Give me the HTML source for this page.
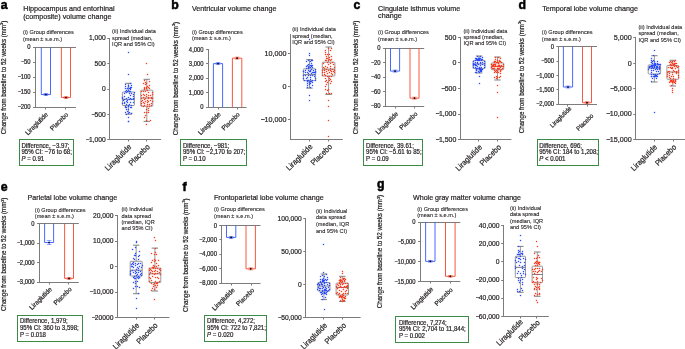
<!DOCTYPE html>
<html><head><meta charset="utf-8"><style>
html,body{margin:0;padding:0;background:#fff;}
body{width:685px;height:349px;overflow:hidden;}
svg{display:block;font-family:"Liberation Sans", sans-serif;will-change:transform;}
text{stroke:#231f20;stroke-width:0.2px;}
</style></head><body>
<svg width="685" height="349" viewBox="0 0 685 349">
<rect width="685" height="349" fill="#fff"/>
<text transform="translate(0.70,8.80) scale(1,1.0)" font-size="12.3" text-anchor="start" font-weight="bold" fill="#000" style="stroke:#000;stroke-width:0.5px">a</text>
<text transform="translate(23.20,10.90) scale(1,1.07)" font-size="7.2" text-anchor="start" font-weight="normal" fill="#231f20" >Hippocampus and entorhinal</text>
<text transform="translate(23.20,18.70) scale(1,1.07)" font-size="7.2" text-anchor="start" font-weight="normal" fill="#231f20" >(composite) volume change</text>
<text transform="translate(5.80,77.50) rotate(-90) scale(1,1.07)" font-size="6.2" text-anchor="middle" fill="#231f20">Change from baseline to 52 weeks (mm<tspan font-size="3.72" dy="-2.2">3</tspan><tspan dy="2.2">)</tspan></text>
<text transform="translate(23.00,34.20) scale(1,1.07)" font-size="5.6" text-anchor="start" font-weight="normal" fill="#231f20" style="stroke-width:0.1px">(i) Group differences</text>
<text transform="translate(23.00,40.80) scale(1,1.07)" font-size="5.6" text-anchor="start" font-weight="normal" fill="#231f20" style="stroke-width:0.1px">(mean ± s.e.m.)</text>
<line x1="35.50" y1="47.00" x2="35.50" y2="108.00" stroke="#7c7c7c" stroke-width="1"/>
<line x1="33.10" y1="47.50" x2="35.50" y2="47.50" stroke="#7c7c7c" stroke-width="1"/>
<text transform="translate(30.60,49.49) scale(1,1.07)" font-size="5.9" text-anchor="end" font-weight="normal" fill="#231f20" >0</text>
<line x1="33.10" y1="62.50" x2="35.50" y2="62.50" stroke="#7c7c7c" stroke-width="1"/>
<text transform="translate(30.60,64.49) scale(1,1.07)" font-size="5.9" text-anchor="end" font-weight="normal" fill="#231f20" >−<tspan dx="-0.12em">50</tspan></text>
<line x1="33.10" y1="77.50" x2="35.50" y2="77.50" stroke="#7c7c7c" stroke-width="1"/>
<text transform="translate(30.60,79.49) scale(1,1.07)" font-size="5.9" text-anchor="end" font-weight="normal" fill="#231f20" >−<tspan dx="-0.12em">100</tspan></text>
<line x1="33.10" y1="92.50" x2="35.50" y2="92.50" stroke="#7c7c7c" stroke-width="1"/>
<text transform="translate(30.60,94.49) scale(1,1.07)" font-size="5.9" text-anchor="end" font-weight="normal" fill="#231f20" >−<tspan dx="-0.12em">150</tspan></text>
<line x1="33.10" y1="107.50" x2="35.50" y2="107.50" stroke="#7c7c7c" stroke-width="1"/>
<text transform="translate(30.60,109.49) scale(1,1.07)" font-size="5.9" text-anchor="end" font-weight="normal" fill="#231f20" >−<tspan dx="-0.12em">200</tspan></text>
<line x1="33.10" y1="47.50" x2="76.00" y2="47.50" stroke="#7c7c7c" stroke-width="1"/>
<line x1="33.10" y1="107.50" x2="76.00" y2="107.50" stroke="#7c7c7c" stroke-width="1"/>
<line x1="45.50" y1="107.50" x2="45.50" y2="109.50" stroke="#7c7c7c" stroke-width="1"/>
<line x1="65.50" y1="107.50" x2="65.50" y2="109.50" stroke="#7c7c7c" stroke-width="1"/>
<path d="M41.30,47.40 L41.30,94.50 L50.50,94.50 L50.50,47.40" fill="none" stroke="#3358ff" stroke-width="0.9"/>
<line x1="43.60" y1="93.50" x2="48.20" y2="93.50" stroke="#3358ff" stroke-width="0.7" opacity="0.85"/>
<line x1="43.60" y1="95.50" x2="48.20" y2="95.50" stroke="#3358ff" stroke-width="0.7" opacity="0.85"/>
<line x1="45.90" y1="93.50" x2="45.90" y2="95.50" stroke="#3358ff" stroke-width="0.7" opacity="0.85"/>
<circle cx="45.90" cy="94.50" r="0.85" fill="#000"/>
<path d="M61.40,47.40 L61.40,97.50 L70.50,97.50 L70.50,47.40" fill="none" stroke="#f7452b" stroke-width="0.9"/>
<line x1="63.65" y1="96.50" x2="68.25" y2="96.50" stroke="#f7452b" stroke-width="0.7" opacity="0.85"/>
<line x1="63.65" y1="98.50" x2="68.25" y2="98.50" stroke="#f7452b" stroke-width="0.7" opacity="0.85"/>
<line x1="65.95" y1="96.50" x2="65.95" y2="98.50" stroke="#f7452b" stroke-width="0.7" opacity="0.85"/>
<circle cx="65.95" cy="97.50" r="0.85" fill="#000"/>
<text transform="translate(48.50,115.00) rotate(-45) scale(1,1.07)" font-size="6.25" text-anchor="end" fill="#231f20">Liraglutide</text>
<text transform="translate(68.70,115.00) rotate(-45) scale(1,1.07)" font-size="6.25" text-anchor="end" fill="#231f20">Placebo</text>
<rect x="19.50" y="139.50" width="54.00" height="26.00" fill="none" stroke="#3b8b46" stroke-width="1"/>
<text transform="translate(21.40,147.60) scale(1,1.07)" font-size="6.1" text-anchor="start" font-weight="normal" fill="#231f20" >Difference, −3.97;</text>
<text transform="translate(21.40,154.30) scale(1,1.07)" font-size="6.1" text-anchor="start" font-weight="normal" fill="#231f20" >95% CI: −76 to 68;</text>
<text transform="translate(21.40,160.80) scale(1,1.07)" font-size="6.1" text-anchor="start" font-weight="normal" fill="#231f20" ><tspan font-style="italic">P</tspan> = 0.91</text>
<text transform="translate(112.10,33.20) scale(1,1.07)" font-size="5.6" text-anchor="start" font-weight="normal" fill="#231f20" style="stroke-width:0.1px">(ii) Individual data</text>
<text transform="translate(112.10,39.80) scale(1,1.07)" font-size="5.6" text-anchor="start" font-weight="normal" fill="#231f20" style="stroke-width:0.1px">spread (median,</text>
<text transform="translate(112.10,46.40) scale(1,1.07)" font-size="5.6" text-anchor="start" font-weight="normal" fill="#231f20" style="stroke-width:0.1px">IQR and 95% CI)</text>
<line x1="109.50" y1="38.00" x2="109.50" y2="140.00" stroke="#7c7c7c" stroke-width="1"/>
<line x1="107.30" y1="38.50" x2="109.50" y2="38.50" stroke="#7c7c7c" stroke-width="1"/>
<text transform="translate(105.70,40.30) scale(1,1.12)" font-size="6.7" text-anchor="end" font-weight="normal" fill="#231f20" >1,000</text>
<line x1="107.30" y1="63.50" x2="109.50" y2="63.50" stroke="#7c7c7c" stroke-width="1"/>
<text transform="translate(105.70,65.75) scale(1,1.12)" font-size="6.7" text-anchor="end" font-weight="normal" fill="#231f20" >500</text>
<line x1="107.30" y1="89.50" x2="109.50" y2="89.50" stroke="#7c7c7c" stroke-width="1"/>
<text transform="translate(105.70,91.20) scale(1,1.12)" font-size="6.7" text-anchor="end" font-weight="normal" fill="#231f20" >0</text>
<line x1="107.30" y1="114.50" x2="109.50" y2="114.50" stroke="#7c7c7c" stroke-width="1"/>
<text transform="translate(105.70,116.65) scale(1,1.12)" font-size="6.7" text-anchor="end" font-weight="normal" fill="#231f20" >−<tspan dx="-0.12em">500</tspan></text>
<line x1="107.30" y1="139.50" x2="109.50" y2="139.50" stroke="#7c7c7c" stroke-width="1"/>
<text transform="translate(105.70,142.10) scale(1,1.12)" font-size="6.7" text-anchor="end" font-weight="normal" fill="#231f20" >−<tspan dx="-0.12em">1,000</tspan></text>
<line x1="107.80" y1="139.50" x2="161.10" y2="139.50" stroke="#7c7c7c" stroke-width="1"/>
<line x1="128.50" y1="139.50" x2="128.50" y2="141.50" stroke="#7c7c7c" stroke-width="1"/>
<line x1="146.50" y1="139.50" x2="146.50" y2="141.50" stroke="#7c7c7c" stroke-width="1"/>
<rect x="122.40" y="92.00" width="12.00" height="13.50" rx="0.6" fill="#fff" fill-opacity="0.5" stroke="#808080" stroke-width="0.8"/>
<line x1="128.40" y1="83.30" x2="128.40" y2="92.00" stroke="#808080" stroke-width="0.8" />
<line x1="128.40" y1="105.50" x2="128.40" y2="114.20" stroke="#808080" stroke-width="0.8" />
<line x1="125.20" y1="83.30" x2="131.60" y2="83.30" stroke="#6a6a6a" stroke-width="0.85" />
<line x1="125.20" y1="114.20" x2="131.60" y2="114.20" stroke="#6a6a6a" stroke-width="0.85" />
<line x1="122.40" y1="99.30" x2="134.40" y2="99.30" stroke="#6a6a6a" stroke-width="0.85" />
<g fill="#2a4dff"><rect x="130.85" y="98.85" width="1.3" height="1.3"/><rect x="123.85" y="98.85" width="1.3" height="1.3"/><rect x="128.85" y="98.85" width="1.3" height="1.3"/><rect x="132.85" y="98.85" width="1.3" height="1.3"/><rect x="126.85" y="99.85" width="1.3" height="1.3"/><rect x="125.85" y="97.85" width="1.3" height="1.3"/><rect x="121.85" y="97.85" width="1.3" height="1.3"/><rect x="129.85" y="97.85" width="1.3" height="1.3"/><rect x="132.85" y="97.85" width="1.3" height="1.3"/><rect x="127.85" y="96.85" width="1.3" height="1.3"/><rect x="122.85" y="99.85" width="1.3" height="1.3"/><rect x="121.85" y="96.85" width="1.3" height="1.3"/><rect x="125.85" y="100.85" width="1.3" height="1.3"/><rect x="129.85" y="101.85" width="1.3" height="1.3"/><rect x="123.85" y="95.85" width="1.3" height="1.3"/><rect x="132.85" y="95.85" width="1.3" height="1.3"/><rect x="126.85" y="101.85" width="1.3" height="1.3"/><rect x="132.85" y="101.85" width="1.3" height="1.3"/><rect x="129.85" y="94.85" width="1.3" height="1.3"/><rect x="123.85" y="101.85" width="1.3" height="1.3"/><rect x="121.85" y="102.85" width="1.3" height="1.3"/><rect x="123.85" y="102.85" width="1.3" height="1.3"/><rect x="128.85" y="103.85" width="1.3" height="1.3"/><rect x="132.85" y="93.85" width="1.3" height="1.3"/><rect x="125.85" y="103.85" width="1.3" height="1.3"/><rect x="128.85" y="92.85" width="1.3" height="1.3"/><rect x="123.85" y="92.85" width="1.3" height="1.3"/><rect x="130.85" y="92.85" width="1.3" height="1.3"/><rect x="130.85" y="104.85" width="1.3" height="1.3"/><rect x="133.85" y="91.85" width="1.3" height="1.3"/><rect x="127.85" y="104.85" width="1.3" height="1.3"/><rect x="125.85" y="91.85" width="1.3" height="1.3"/><rect x="124.85" y="105.85" width="1.3" height="1.3"/><rect x="127.85" y="105.85" width="1.3" height="1.3"/><rect x="128.85" y="90.85" width="1.3" height="1.3"/><rect x="126.85" y="90.85" width="1.3" height="1.3"/><rect x="127.85" y="105.85" width="1.3" height="1.3"/><rect x="124.85" y="90.85" width="1.3" height="1.3"/><rect x="129.85" y="90.85" width="1.3" height="1.3"/><rect x="129.85" y="106.85" width="1.3" height="1.3"/><rect x="125.85" y="106.85" width="1.3" height="1.3"/><rect x="124.85" y="106.85" width="1.3" height="1.3"/><rect x="130.85" y="106.85" width="1.3" height="1.3"/><rect x="127.85" y="89.85" width="1.3" height="1.3"/><rect x="125.85" y="89.85" width="1.3" height="1.3"/><rect x="129.85" y="88.85" width="1.3" height="1.3"/><rect x="127.85" y="108.85" width="1.3" height="1.3"/><rect x="124.85" y="87.85" width="1.3" height="1.3"/><rect x="125.85" y="108.85" width="1.3" height="1.3"/><rect x="128.85" y="87.85" width="1.3" height="1.3"/><rect x="126.85" y="87.85" width="1.3" height="1.3"/><rect x="129.85" y="87.85" width="1.3" height="1.3"/><rect x="126.85" y="87.85" width="1.3" height="1.3"/><rect x="130.85" y="86.85" width="1.3" height="1.3"/><rect x="129.85" y="86.85" width="1.3" height="1.3"/><rect x="126.85" y="110.85" width="1.3" height="1.3"/><rect x="124.85" y="85.85" width="1.3" height="1.3"/><rect x="127.85" y="85.85" width="1.3" height="1.3"/><rect x="128.85" y="111.85" width="1.3" height="1.3"/><rect x="124.85" y="111.85" width="1.3" height="1.3"/><rect x="130.85" y="84.85" width="1.3" height="1.3"/><rect x="130.85" y="112.85" width="1.3" height="1.3"/><rect x="130.85" y="112.85" width="1.3" height="1.3"/><rect x="127.85" y="84.85" width="1.3" height="1.3"/><rect x="127.85" y="112.85" width="1.3" height="1.3"/><rect x="125.85" y="113.85" width="1.3" height="1.3"/><rect x="124.85" y="83.85" width="1.3" height="1.3"/><rect x="129.85" y="82.85" width="1.3" height="1.3"/><rect x="127.85" y="51.85" width="1.3" height="1.3"/><rect x="127.85" y="73.85" width="1.3" height="1.3"/><rect x="127.85" y="116.85" width="1.3" height="1.3"/><rect x="127.85" y="120.85" width="1.3" height="1.3"/><rect x="127.85" y="120.85" width="1.3" height="1.3"/></g>
<rect x="140.80" y="90.20" width="12.00" height="16.00" rx="0.6" fill="#fff" fill-opacity="0.5" stroke="#808080" stroke-width="0.8"/>
<line x1="146.80" y1="79.30" x2="146.80" y2="90.20" stroke="#808080" stroke-width="0.8" />
<line x1="146.80" y1="106.20" x2="146.80" y2="121.40" stroke="#808080" stroke-width="0.8" />
<line x1="143.60" y1="79.30" x2="150.00" y2="79.30" stroke="#6a6a6a" stroke-width="0.85" />
<line x1="143.60" y1="121.40" x2="150.00" y2="121.40" stroke="#6a6a6a" stroke-width="0.85" />
<line x1="140.80" y1="98.00" x2="152.80" y2="98.00" stroke="#6a6a6a" stroke-width="0.85" />
<g fill="#ff3b1c"><rect x="144.85" y="97.85" width="1.3" height="1.3"/><rect x="142.85" y="96.85" width="1.3" height="1.3"/><rect x="140.85" y="97.85" width="1.3" height="1.3"/><rect x="150.85" y="97.85" width="1.3" height="1.3"/><rect x="147.85" y="97.85" width="1.3" height="1.3"/><rect x="151.85" y="97.85" width="1.3" height="1.3"/><rect x="147.85" y="96.85" width="1.3" height="1.3"/><rect x="150.85" y="96.85" width="1.3" height="1.3"/><rect x="143.85" y="98.85" width="1.3" height="1.3"/><rect x="145.85" y="95.85" width="1.3" height="1.3"/><rect x="140.85" y="94.85" width="1.3" height="1.3"/><rect x="143.85" y="94.85" width="1.3" height="1.3"/><rect x="146.85" y="99.85" width="1.3" height="1.3"/><rect x="149.85" y="99.85" width="1.3" height="1.3"/><rect x="141.85" y="99.85" width="1.3" height="1.3"/><rect x="149.85" y="94.85" width="1.3" height="1.3"/><rect x="147.85" y="94.85" width="1.3" height="1.3"/><rect x="140.85" y="100.85" width="1.3" height="1.3"/><rect x="151.85" y="100.85" width="1.3" height="1.3"/><rect x="144.85" y="100.85" width="1.3" height="1.3"/><rect x="151.85" y="93.85" width="1.3" height="1.3"/><rect x="147.85" y="100.85" width="1.3" height="1.3"/><rect x="145.85" y="93.85" width="1.3" height="1.3"/><rect x="142.85" y="93.85" width="1.3" height="1.3"/><rect x="142.85" y="101.85" width="1.3" height="1.3"/><rect x="146.85" y="101.85" width="1.3" height="1.3"/><rect x="143.85" y="102.85" width="1.3" height="1.3"/><rect x="151.85" y="91.85" width="1.3" height="1.3"/><rect x="147.85" y="91.85" width="1.3" height="1.3"/><rect x="150.85" y="102.85" width="1.3" height="1.3"/><rect x="140.85" y="102.85" width="1.3" height="1.3"/><rect x="144.85" y="90.85" width="1.3" height="1.3"/><rect x="140.85" y="90.85" width="1.3" height="1.3"/><rect x="142.85" y="90.85" width="1.3" height="1.3"/><rect x="148.85" y="103.85" width="1.3" height="1.3"/><rect x="146.85" y="103.85" width="1.3" height="1.3"/><rect x="146.85" y="89.85" width="1.3" height="1.3"/><rect x="140.85" y="104.85" width="1.3" height="1.3"/><rect x="143.85" y="104.85" width="1.3" height="1.3"/><rect x="150.85" y="104.85" width="1.3" height="1.3"/><rect x="143.85" y="88.85" width="1.3" height="1.3"/><rect x="146.85" y="105.85" width="1.3" height="1.3"/><rect x="142.85" y="105.85" width="1.3" height="1.3"/><rect x="148.85" y="105.85" width="1.3" height="1.3"/><rect x="145.85" y="87.85" width="1.3" height="1.3"/><rect x="148.85" y="87.85" width="1.3" height="1.3"/><rect x="143.85" y="87.85" width="1.3" height="1.3"/><rect x="143.85" y="86.85" width="1.3" height="1.3"/><rect x="147.85" y="107.85" width="1.3" height="1.3"/><rect x="147.85" y="86.85" width="1.3" height="1.3"/><rect x="145.85" y="86.85" width="1.3" height="1.3"/><rect x="146.85" y="85.85" width="1.3" height="1.3"/><rect x="145.85" y="108.85" width="1.3" height="1.3"/><rect x="147.85" y="109.85" width="1.3" height="1.3"/><rect x="148.85" y="84.85" width="1.3" height="1.3"/><rect x="144.85" y="83.85" width="1.3" height="1.3"/><rect x="145.85" y="111.85" width="1.3" height="1.3"/><rect x="147.85" y="111.85" width="1.3" height="1.3"/><rect x="143.85" y="111.85" width="1.3" height="1.3"/><rect x="145.85" y="82.85" width="1.3" height="1.3"/><rect x="142.85" y="82.85" width="1.3" height="1.3"/><rect x="144.85" y="81.85" width="1.3" height="1.3"/><rect x="148.85" y="80.85" width="1.3" height="1.3"/><rect x="144.85" y="114.85" width="1.3" height="1.3"/><rect x="143.85" y="79.85" width="1.3" height="1.3"/><rect x="143.85" y="116.85" width="1.3" height="1.3"/><rect x="145.85" y="119.85" width="1.3" height="1.3"/><rect x="149.85" y="119.85" width="1.3" height="1.3"/><rect x="145.85" y="62.85" width="1.3" height="1.3"/><rect x="146.85" y="73.85" width="1.3" height="1.3"/><rect x="145.85" y="123.85" width="1.3" height="1.3"/></g>
<text transform="translate(131.90,147.50) rotate(-45) scale(1,1.07)" font-size="7.3" text-anchor="end" fill="#231f20">Liraglutide</text>
<text transform="translate(150.30,147.50) rotate(-45) scale(1,1.07)" font-size="7.3" text-anchor="end" fill="#231f20">Placebo</text>
<text transform="translate(171.20,8.90) scale(1,1.0)" font-size="12.3" text-anchor="start" font-weight="bold" fill="#000" style="stroke:#000;stroke-width:0.5px">b</text>
<text transform="translate(191.90,11.20) scale(1,1.07)" font-size="7.2" text-anchor="start" font-weight="normal" fill="#231f20" >Ventricular volume change</text>
<text transform="translate(177.60,78.60) rotate(-90) scale(1,1.07)" font-size="6.2" text-anchor="middle" fill="#231f20">Change from baseline to 52 weeks (mm<tspan font-size="3.72" dy="-2.2">3</tspan><tspan dy="2.2">)</tspan></text>
<text transform="translate(191.90,33.90) scale(1,1.07)" font-size="5.6" text-anchor="start" font-weight="normal" fill="#231f20" style="stroke-width:0.1px">(i) Group differences</text>
<text transform="translate(191.90,40.20) scale(1,1.07)" font-size="5.6" text-anchor="start" font-weight="normal" fill="#231f20" style="stroke-width:0.1px">(mean ± s.e.m.)</text>
<line x1="208.50" y1="49.00" x2="208.50" y2="108.00" stroke="#7c7c7c" stroke-width="1"/>
<line x1="206.10" y1="49.50" x2="208.50" y2="49.50" stroke="#7c7c7c" stroke-width="1"/>
<text transform="translate(203.60,51.57) scale(1,1.07)" font-size="5.9" text-anchor="end" font-weight="normal" fill="#231f20" >4,000</text>
<line x1="206.10" y1="63.50" x2="208.50" y2="63.50" stroke="#7c7c7c" stroke-width="1"/>
<text transform="translate(203.60,66.00) scale(1,1.07)" font-size="5.9" text-anchor="end" font-weight="normal" fill="#231f20" >3,000</text>
<line x1="206.10" y1="78.50" x2="208.50" y2="78.50" stroke="#7c7c7c" stroke-width="1"/>
<text transform="translate(203.60,80.43) scale(1,1.07)" font-size="5.9" text-anchor="end" font-weight="normal" fill="#231f20" >2,000</text>
<line x1="206.10" y1="92.50" x2="208.50" y2="92.50" stroke="#7c7c7c" stroke-width="1"/>
<text transform="translate(203.60,94.86) scale(1,1.07)" font-size="5.9" text-anchor="end" font-weight="normal" fill="#231f20" >1,000</text>
<line x1="206.10" y1="107.50" x2="208.50" y2="107.50" stroke="#7c7c7c" stroke-width="1"/>
<text transform="translate(203.60,109.29) scale(1,1.07)" font-size="5.9" text-anchor="end" font-weight="normal" fill="#231f20" >0</text>
<line x1="206.10" y1="107.50" x2="246.60" y2="107.50" stroke="#7c7c7c" stroke-width="1"/>
<line x1="218.50" y1="107.50" x2="218.50" y2="109.50" stroke="#7c7c7c" stroke-width="1"/>
<line x1="237.50" y1="107.50" x2="237.50" y2="109.50" stroke="#7c7c7c" stroke-width="1"/>
<path d="M213.40,107.20 L213.40,63.62 L222.60,63.62 L222.60,107.20" fill="none" stroke="#3358ff" stroke-width="0.9"/>
<line x1="215.70" y1="62.62" x2="220.30" y2="62.62" stroke="#3358ff" stroke-width="0.7" opacity="0.85"/>
<line x1="215.70" y1="64.62" x2="220.30" y2="64.62" stroke="#3358ff" stroke-width="0.7" opacity="0.85"/>
<line x1="218.00" y1="62.62" x2="218.00" y2="64.62" stroke="#3358ff" stroke-width="0.7" opacity="0.85"/>
<circle cx="218.00" cy="63.62" r="0.85" fill="#000"/>
<path d="M232.40,107.20 L232.40,58.14 L241.80,58.14 L241.80,107.20" fill="none" stroke="#f7452b" stroke-width="0.9"/>
<line x1="234.80" y1="57.14" x2="239.40" y2="57.14" stroke="#f7452b" stroke-width="0.7" opacity="0.85"/>
<line x1="234.80" y1="59.14" x2="239.40" y2="59.14" stroke="#f7452b" stroke-width="0.7" opacity="0.85"/>
<line x1="237.10" y1="57.14" x2="237.10" y2="59.14" stroke="#f7452b" stroke-width="0.7" opacity="0.85"/>
<circle cx="237.10" cy="58.14" r="0.85" fill="#000"/>
<text transform="translate(221.10,114.90) rotate(-45) scale(1,1.07)" font-size="6.25" text-anchor="end" fill="#231f20">Liraglutide</text>
<text transform="translate(240.30,114.90) rotate(-45) scale(1,1.07)" font-size="6.25" text-anchor="end" fill="#231f20">Placebo</text>
<rect x="180.50" y="139.50" width="66.00" height="26.00" fill="none" stroke="#3b8b46" stroke-width="1"/>
<text transform="translate(182.90,147.60) scale(1,1.07)" font-size="6.1" text-anchor="start" font-weight="normal" fill="#231f20" >Difference, −981;</text>
<text transform="translate(182.90,154.20) scale(1,1.07)" font-size="6.1" text-anchor="start" font-weight="normal" fill="#231f20" >95% CI: −2,170 to 207;</text>
<text transform="translate(182.90,160.70) scale(1,1.07)" font-size="6.1" text-anchor="start" font-weight="normal" fill="#231f20" >P = 0.10</text>
<text transform="translate(292.20,31.20) scale(1,1.07)" font-size="5.6" text-anchor="start" font-weight="normal" fill="#231f20" style="stroke-width:0.1px">(ii) Individual data</text>
<text transform="translate(292.20,37.60) scale(1,1.07)" font-size="5.6" text-anchor="start" font-weight="normal" fill="#231f20" style="stroke-width:0.1px">spread (median,</text>
<text transform="translate(292.20,44.20) scale(1,1.07)" font-size="5.6" text-anchor="start" font-weight="normal" fill="#231f20" style="stroke-width:0.1px">IQR and 95% CI)</text>
<line x1="290.50" y1="34.00" x2="290.50" y2="140.00" stroke="#7c7c7c" stroke-width="1"/>
<line x1="288.00" y1="53.50" x2="290.50" y2="53.50" stroke="#7c7c7c" stroke-width="1"/>
<text transform="translate(286.40,56.10) scale(1,1.12)" font-size="7.2" text-anchor="end" font-weight="normal" fill="#231f20" >10,000</text>
<line x1="288.00" y1="86.50" x2="290.50" y2="86.50" stroke="#7c7c7c" stroke-width="1"/>
<text transform="translate(286.40,89.00) scale(1,1.12)" font-size="7.2" text-anchor="end" font-weight="normal" fill="#231f20" >0</text>
<line x1="288.00" y1="119.50" x2="290.50" y2="119.50" stroke="#7c7c7c" stroke-width="1"/>
<text transform="translate(286.40,121.90) scale(1,1.12)" font-size="7.2" text-anchor="end" font-weight="normal" fill="#231f20" >−<tspan dx="-0.12em">10,000</tspan></text>
<line x1="290.00" y1="139.50" x2="342.80" y2="139.50" stroke="#7c7c7c" stroke-width="1"/>
<line x1="309.50" y1="139.50" x2="309.50" y2="141.50" stroke="#7c7c7c" stroke-width="1"/>
<line x1="328.50" y1="139.50" x2="328.50" y2="141.50" stroke="#7c7c7c" stroke-width="1"/>
<rect x="303.40" y="68.80" width="12.20" height="11.80" rx="0.6" fill="#fff" fill-opacity="0.5" stroke="#808080" stroke-width="0.8"/>
<line x1="309.50" y1="59.60" x2="309.50" y2="68.80" stroke="#808080" stroke-width="0.8" />
<line x1="309.50" y1="80.60" x2="309.50" y2="88.10" stroke="#808080" stroke-width="0.8" />
<line x1="306.30" y1="59.60" x2="312.70" y2="59.60" stroke="#6a6a6a" stroke-width="0.85" />
<line x1="306.30" y1="88.10" x2="312.70" y2="88.10" stroke="#6a6a6a" stroke-width="0.85" />
<line x1="303.40" y1="74.70" x2="315.60" y2="74.70" stroke="#6a6a6a" stroke-width="0.85" />
<g fill="#2a4dff"><rect x="313.85" y="73.85" width="1.3" height="1.3"/><rect x="304.85" y="74.85" width="1.3" height="1.3"/><rect x="311.85" y="74.85" width="1.3" height="1.3"/><rect x="307.85" y="74.85" width="1.3" height="1.3"/><rect x="309.85" y="74.85" width="1.3" height="1.3"/><rect x="302.85" y="74.85" width="1.3" height="1.3"/><rect x="310.85" y="72.85" width="1.3" height="1.3"/><rect x="307.85" y="72.85" width="1.3" height="1.3"/><rect x="313.85" y="75.85" width="1.3" height="1.3"/><rect x="304.85" y="71.85" width="1.3" height="1.3"/><rect x="314.85" y="71.85" width="1.3" height="1.3"/><rect x="312.85" y="71.85" width="1.3" height="1.3"/><rect x="313.85" y="71.85" width="1.3" height="1.3"/><rect x="306.85" y="71.85" width="1.3" height="1.3"/><rect x="311.85" y="71.85" width="1.3" height="1.3"/><rect x="309.85" y="76.85" width="1.3" height="1.3"/><rect x="309.85" y="70.85" width="1.3" height="1.3"/><rect x="302.85" y="70.85" width="1.3" height="1.3"/><rect x="306.85" y="76.85" width="1.3" height="1.3"/><rect x="308.85" y="70.85" width="1.3" height="1.3"/><rect x="314.85" y="70.85" width="1.3" height="1.3"/><rect x="302.85" y="70.85" width="1.3" height="1.3"/><rect x="314.85" y="77.85" width="1.3" height="1.3"/><rect x="302.85" y="77.85" width="1.3" height="1.3"/><rect x="309.85" y="69.85" width="1.3" height="1.3"/><rect x="307.85" y="69.85" width="1.3" height="1.3"/><rect x="312.85" y="69.85" width="1.3" height="1.3"/><rect x="305.85" y="77.85" width="1.3" height="1.3"/><rect x="304.85" y="69.85" width="1.3" height="1.3"/><rect x="309.85" y="78.85" width="1.3" height="1.3"/><rect x="314.85" y="68.85" width="1.3" height="1.3"/><rect x="310.85" y="68.85" width="1.3" height="1.3"/><rect x="311.85" y="79.85" width="1.3" height="1.3"/><rect x="303.85" y="79.85" width="1.3" height="1.3"/><rect x="307.85" y="79.85" width="1.3" height="1.3"/><rect x="314.85" y="79.85" width="1.3" height="1.3"/><rect x="307.85" y="67.85" width="1.3" height="1.3"/><rect x="306.85" y="79.85" width="1.3" height="1.3"/><rect x="307.85" y="79.85" width="1.3" height="1.3"/><rect x="305.85" y="67.85" width="1.3" height="1.3"/><rect x="309.85" y="80.85" width="1.3" height="1.3"/><rect x="311.85" y="66.85" width="1.3" height="1.3"/><rect x="309.85" y="66.85" width="1.3" height="1.3"/><rect x="310.85" y="80.85" width="1.3" height="1.3"/><rect x="306.85" y="80.85" width="1.3" height="1.3"/><rect x="306.85" y="80.85" width="1.3" height="1.3"/><rect x="309.85" y="80.85" width="1.3" height="1.3"/><rect x="311.85" y="81.85" width="1.3" height="1.3"/><rect x="308.85" y="81.85" width="1.3" height="1.3"/><rect x="307.85" y="66.85" width="1.3" height="1.3"/><rect x="305.85" y="65.85" width="1.3" height="1.3"/><rect x="310.85" y="65.85" width="1.3" height="1.3"/><rect x="308.85" y="81.85" width="1.3" height="1.3"/><rect x="307.85" y="65.85" width="1.3" height="1.3"/><rect x="309.85" y="82.85" width="1.3" height="1.3"/><rect x="306.85" y="82.85" width="1.3" height="1.3"/><rect x="311.85" y="64.85" width="1.3" height="1.3"/><rect x="306.85" y="64.85" width="1.3" height="1.3"/><rect x="309.85" y="64.85" width="1.3" height="1.3"/><rect x="310.85" y="64.85" width="1.3" height="1.3"/><rect x="308.85" y="83.85" width="1.3" height="1.3"/><rect x="307.85" y="63.85" width="1.3" height="1.3"/><rect x="306.85" y="84.85" width="1.3" height="1.3"/><rect x="311.85" y="84.85" width="1.3" height="1.3"/><rect x="310.85" y="62.85" width="1.3" height="1.3"/><rect x="306.85" y="86.85" width="1.3" height="1.3"/><rect x="309.85" y="86.85" width="1.3" height="1.3"/><rect x="305.85" y="60.85" width="1.3" height="1.3"/><rect x="309.85" y="60.85" width="1.3" height="1.3"/><rect x="307.85" y="59.85" width="1.3" height="1.3"/><rect x="311.85" y="59.85" width="1.3" height="1.3"/><rect x="310.85" y="59.85" width="1.3" height="1.3"/><rect x="308.85" y="38.85" width="1.3" height="1.3"/><rect x="308.85" y="52.85" width="1.3" height="1.3"/><rect x="308.85" y="54.85" width="1.3" height="1.3"/><rect x="308.85" y="94.85" width="1.3" height="1.3"/><rect x="308.85" y="99.85" width="1.3" height="1.3"/></g>
<rect x="322.30" y="62.20" width="12.60" height="13.80" rx="0.6" fill="#fff" fill-opacity="0.5" stroke="#808080" stroke-width="0.8"/>
<line x1="328.60" y1="47.00" x2="328.60" y2="62.20" stroke="#808080" stroke-width="0.8" />
<line x1="328.60" y1="76.00" x2="328.60" y2="94.40" stroke="#808080" stroke-width="0.8" />
<line x1="325.40" y1="47.00" x2="331.80" y2="47.00" stroke="#6a6a6a" stroke-width="0.85" />
<line x1="325.40" y1="94.40" x2="331.80" y2="94.40" stroke="#6a6a6a" stroke-width="0.85" />
<line x1="322.30" y1="69.20" x2="334.90" y2="69.20" stroke="#6a6a6a" stroke-width="0.85" />
<g fill="#ff3b1c"><rect x="325.85" y="68.85" width="1.3" height="1.3"/><rect x="331.85" y="68.85" width="1.3" height="1.3"/><rect x="323.85" y="67.85" width="1.3" height="1.3"/><rect x="329.85" y="67.85" width="1.3" height="1.3"/><rect x="329.85" y="69.85" width="1.3" height="1.3"/><rect x="321.85" y="69.85" width="1.3" height="1.3"/><rect x="326.85" y="66.85" width="1.3" height="1.3"/><rect x="323.85" y="69.85" width="1.3" height="1.3"/><rect x="333.85" y="66.85" width="1.3" height="1.3"/><rect x="333.85" y="69.85" width="1.3" height="1.3"/><rect x="327.85" y="69.85" width="1.3" height="1.3"/><rect x="322.85" y="66.85" width="1.3" height="1.3"/><rect x="330.85" y="70.85" width="1.3" height="1.3"/><rect x="325.85" y="70.85" width="1.3" height="1.3"/><rect x="332.85" y="70.85" width="1.3" height="1.3"/><rect x="324.85" y="65.85" width="1.3" height="1.3"/><rect x="329.85" y="65.85" width="1.3" height="1.3"/><rect x="323.85" y="71.85" width="1.3" height="1.3"/><rect x="328.85" y="71.85" width="1.3" height="1.3"/><rect x="321.85" y="71.85" width="1.3" height="1.3"/><rect x="333.85" y="71.85" width="1.3" height="1.3"/><rect x="330.85" y="72.85" width="1.3" height="1.3"/><rect x="327.85" y="63.85" width="1.3" height="1.3"/><rect x="332.85" y="63.85" width="1.3" height="1.3"/><rect x="326.85" y="72.85" width="1.3" height="1.3"/><rect x="323.85" y="73.85" width="1.3" height="1.3"/><rect x="331.85" y="73.85" width="1.3" height="1.3"/><rect x="322.85" y="62.85" width="1.3" height="1.3"/><rect x="329.85" y="62.85" width="1.3" height="1.3"/><rect x="321.85" y="74.85" width="1.3" height="1.3"/><rect x="324.85" y="74.85" width="1.3" height="1.3"/><rect x="331.85" y="61.85" width="1.3" height="1.3"/><rect x="326.85" y="61.85" width="1.3" height="1.3"/><rect x="328.85" y="75.85" width="1.3" height="1.3"/><rect x="330.85" y="75.85" width="1.3" height="1.3"/><rect x="326.85" y="75.85" width="1.3" height="1.3"/><rect x="329.85" y="59.85" width="1.3" height="1.3"/><rect x="324.85" y="59.85" width="1.3" height="1.3"/><rect x="325.85" y="59.85" width="1.3" height="1.3"/><rect x="327.85" y="59.85" width="1.3" height="1.3"/><rect x="328.85" y="77.85" width="1.3" height="1.3"/><rect x="324.85" y="77.85" width="1.3" height="1.3"/><rect x="328.85" y="58.85" width="1.3" height="1.3"/><rect x="329.85" y="78.85" width="1.3" height="1.3"/><rect x="330.85" y="58.85" width="1.3" height="1.3"/><rect x="325.85" y="57.85" width="1.3" height="1.3"/><rect x="328.85" y="79.85" width="1.3" height="1.3"/><rect x="325.85" y="79.85" width="1.3" height="1.3"/><rect x="326.85" y="57.85" width="1.3" height="1.3"/><rect x="328.85" y="56.85" width="1.3" height="1.3"/><rect x="330.85" y="80.85" width="1.3" height="1.3"/><rect x="324.85" y="80.85" width="1.3" height="1.3"/><rect x="325.85" y="55.85" width="1.3" height="1.3"/><rect x="330.85" y="55.85" width="1.3" height="1.3"/><rect x="326.85" y="81.85" width="1.3" height="1.3"/><rect x="329.85" y="82.85" width="1.3" height="1.3"/><rect x="324.85" y="53.85" width="1.3" height="1.3"/><rect x="328.85" y="53.85" width="1.3" height="1.3"/><rect x="326.85" y="53.85" width="1.3" height="1.3"/><rect x="325.85" y="83.85" width="1.3" height="1.3"/><rect x="324.85" y="51.85" width="1.3" height="1.3"/><rect x="324.85" y="85.85" width="1.3" height="1.3"/><rect x="329.85" y="49.85" width="1.3" height="1.3"/><rect x="324.85" y="49.85" width="1.3" height="1.3"/><rect x="327.85" y="88.85" width="1.3" height="1.3"/><rect x="324.85" y="88.85" width="1.3" height="1.3"/><rect x="327.85" y="47.85" width="1.3" height="1.3"/><rect x="330.85" y="47.85" width="1.3" height="1.3"/><rect x="326.85" y="89.85" width="1.3" height="1.3"/><rect x="330.85" y="92.85" width="1.3" height="1.3"/><rect x="328.85" y="92.85" width="1.3" height="1.3"/><rect x="325.85" y="92.85" width="1.3" height="1.3"/><rect x="327.85" y="99.85" width="1.3" height="1.3"/><rect x="327.85" y="105.85" width="1.3" height="1.3"/><rect x="327.85" y="119.85" width="1.3" height="1.3"/><rect x="327.85" y="135.85" width="1.3" height="1.3"/></g>
<text transform="translate(313.10,147.20) rotate(-45) scale(1,1.07)" font-size="7.3" text-anchor="end" fill="#231f20">Liraglutide</text>
<text transform="translate(332.50,147.20) rotate(-45) scale(1,1.07)" font-size="7.3" text-anchor="end" fill="#231f20">Placebo</text>
<text transform="translate(353.60,9.20) scale(1,1.0)" font-size="12.3" text-anchor="start" font-weight="bold" fill="#000" style="stroke:#000;stroke-width:0.5px">c</text>
<text transform="translate(378.10,10.50) scale(1,1.07)" font-size="7.2" text-anchor="start" font-weight="normal" fill="#231f20" >Cingulate isthmus volume</text>
<text transform="translate(378.10,17.80) scale(1,1.07)" font-size="7.2" text-anchor="start" font-weight="normal" fill="#231f20" >change</text>
<text transform="translate(357.90,77.50) rotate(-90) scale(1,1.07)" font-size="6.2" text-anchor="middle" fill="#231f20">Change from baseline to 52 weeks (mm<tspan font-size="3.72" dy="-2.2">3</tspan><tspan dy="2.2">)</tspan></text>
<text transform="translate(378.10,34.40) scale(1,1.07)" font-size="5.6" text-anchor="start" font-weight="normal" fill="#231f20" style="stroke-width:0.1px">(i) Group differences</text>
<text transform="translate(378.10,40.70) scale(1,1.07)" font-size="5.6" text-anchor="start" font-weight="normal" fill="#231f20" style="stroke-width:0.1px">(mean ± s.e.m.)</text>
<line x1="385.50" y1="48.00" x2="385.50" y2="107.00" stroke="#7c7c7c" stroke-width="1"/>
<line x1="383.10" y1="48.50" x2="385.50" y2="48.50" stroke="#7c7c7c" stroke-width="1"/>
<text transform="translate(380.60,50.29) scale(1,1.07)" font-size="5.9" text-anchor="end" font-weight="normal" fill="#231f20" >0</text>
<line x1="383.10" y1="62.50" x2="385.50" y2="62.50" stroke="#7c7c7c" stroke-width="1"/>
<text transform="translate(380.60,64.84) scale(1,1.07)" font-size="5.9" text-anchor="end" font-weight="normal" fill="#231f20" >−<tspan dx="-0.12em">20</tspan></text>
<line x1="383.10" y1="77.50" x2="385.50" y2="77.50" stroke="#7c7c7c" stroke-width="1"/>
<text transform="translate(380.60,79.39) scale(1,1.07)" font-size="5.9" text-anchor="end" font-weight="normal" fill="#231f20" >−<tspan dx="-0.12em">40</tspan></text>
<line x1="383.10" y1="91.50" x2="385.50" y2="91.50" stroke="#7c7c7c" stroke-width="1"/>
<text transform="translate(380.60,93.94) scale(1,1.07)" font-size="5.9" text-anchor="end" font-weight="normal" fill="#231f20" >−<tspan dx="-0.12em">60</tspan></text>
<line x1="383.10" y1="106.50" x2="385.50" y2="106.50" stroke="#7c7c7c" stroke-width="1"/>
<text transform="translate(380.60,108.49) scale(1,1.07)" font-size="5.9" text-anchor="end" font-weight="normal" fill="#231f20" >−<tspan dx="-0.12em">80</tspan></text>
<line x1="383.10" y1="48.50" x2="424.20" y2="48.50" stroke="#7c7c7c" stroke-width="1"/>
<line x1="383.10" y1="106.50" x2="424.20" y2="106.50" stroke="#7c7c7c" stroke-width="1"/>
<line x1="395.50" y1="106.50" x2="395.50" y2="108.50" stroke="#7c7c7c" stroke-width="1"/>
<line x1="414.50" y1="106.50" x2="414.50" y2="108.50" stroke="#7c7c7c" stroke-width="1"/>
<path d="M390.50,48.20 L390.50,71.12 L399.60,71.12 L399.60,48.20" fill="none" stroke="#3358ff" stroke-width="0.9"/>
<line x1="392.75" y1="70.12" x2="397.35" y2="70.12" stroke="#3358ff" stroke-width="0.7" opacity="0.85"/>
<line x1="392.75" y1="72.12" x2="397.35" y2="72.12" stroke="#3358ff" stroke-width="0.7" opacity="0.85"/>
<line x1="395.05" y1="70.12" x2="395.05" y2="72.12" stroke="#3358ff" stroke-width="0.7" opacity="0.85"/>
<circle cx="395.05" cy="71.12" r="0.85" fill="#000"/>
<path d="M410.00,48.20 L410.00,98.18 L419.00,98.18 L419.00,48.20" fill="none" stroke="#f7452b" stroke-width="0.9"/>
<line x1="412.20" y1="97.18" x2="416.80" y2="97.18" stroke="#f7452b" stroke-width="0.7" opacity="0.85"/>
<line x1="412.20" y1="99.18" x2="416.80" y2="99.18" stroke="#f7452b" stroke-width="0.7" opacity="0.85"/>
<line x1="414.50" y1="97.18" x2="414.50" y2="99.18" stroke="#f7452b" stroke-width="0.7" opacity="0.85"/>
<circle cx="414.50" cy="98.18" r="0.85" fill="#000"/>
<text transform="translate(398.70,114.40) rotate(-45) scale(1,1.07)" font-size="6.25" text-anchor="end" fill="#231f20">Liraglutide</text>
<text transform="translate(418.00,114.40) rotate(-45) scale(1,1.07)" font-size="6.25" text-anchor="end" fill="#231f20">Placebo</text>
<rect x="363.50" y="139.50" width="59.00" height="26.00" fill="none" stroke="#3b8b46" stroke-width="1"/>
<text transform="translate(366.00,147.60) scale(1,1.07)" font-size="6.1" text-anchor="start" font-weight="normal" fill="#231f20" >Difference, 39.61;</text>
<text transform="translate(366.00,154.20) scale(1,1.07)" font-size="6.1" text-anchor="start" font-weight="normal" fill="#231f20" >95% CI: −5.61 to 85;</text>
<text transform="translate(366.00,160.70) scale(1,1.07)" font-size="6.1" text-anchor="start" font-weight="normal" fill="#231f20" >P = 0.09</text>
<text transform="translate(463.50,32.50) scale(1,1.07)" font-size="5.6" text-anchor="start" font-weight="normal" fill="#231f20" style="stroke-width:0.1px">(ii) Individual data</text>
<text transform="translate(463.50,38.90) scale(1,1.07)" font-size="5.6" text-anchor="start" font-weight="normal" fill="#231f20" style="stroke-width:0.1px">spread (median,</text>
<text transform="translate(463.50,45.30) scale(1,1.07)" font-size="5.6" text-anchor="start" font-weight="normal" fill="#231f20" style="stroke-width:0.1px">IQR and 95% CI)</text>
<line x1="460.50" y1="37.00" x2="460.50" y2="140.00" stroke="#7c7c7c" stroke-width="1"/>
<line x1="458.00" y1="37.50" x2="460.50" y2="37.50" stroke="#7c7c7c" stroke-width="1"/>
<text transform="translate(456.40,39.62) scale(1,1.12)" font-size="7.0" text-anchor="end" font-weight="normal" fill="#231f20" >500</text>
<line x1="458.00" y1="62.50" x2="460.50" y2="62.50" stroke="#7c7c7c" stroke-width="1"/>
<text transform="translate(456.40,65.22) scale(1,1.12)" font-size="7.0" text-anchor="end" font-weight="normal" fill="#231f20" >0</text>
<line x1="458.00" y1="88.50" x2="460.50" y2="88.50" stroke="#7c7c7c" stroke-width="1"/>
<text transform="translate(456.40,90.82) scale(1,1.12)" font-size="7.0" text-anchor="end" font-weight="normal" fill="#231f20" >−<tspan dx="-0.12em">500</tspan></text>
<line x1="458.00" y1="114.50" x2="460.50" y2="114.50" stroke="#7c7c7c" stroke-width="1"/>
<text transform="translate(456.40,116.42) scale(1,1.12)" font-size="7.0" text-anchor="end" font-weight="normal" fill="#231f20" >−<tspan dx="-0.12em">1,000</tspan></text>
<line x1="458.00" y1="139.50" x2="460.50" y2="139.50" stroke="#7c7c7c" stroke-width="1"/>
<text transform="translate(456.40,142.02) scale(1,1.12)" font-size="7.0" text-anchor="end" font-weight="normal" fill="#231f20" >−<tspan dx="-0.12em">1,500</tspan></text>
<line x1="460.00" y1="139.50" x2="511.50" y2="139.50" stroke="#7c7c7c" stroke-width="1"/>
<line x1="478.50" y1="139.50" x2="478.50" y2="141.50" stroke="#7c7c7c" stroke-width="1"/>
<line x1="497.50" y1="139.50" x2="497.50" y2="141.50" stroke="#7c7c7c" stroke-width="1"/>
<rect x="473.10" y="60.50" width="12.00" height="8.00" rx="0.6" fill="#fff" fill-opacity="0.5" stroke="#808080" stroke-width="0.8"/>
<line x1="479.10" y1="56.00" x2="479.10" y2="60.50" stroke="#808080" stroke-width="0.8" />
<line x1="479.10" y1="68.50" x2="479.10" y2="73.00" stroke="#808080" stroke-width="0.8" />
<line x1="475.90" y1="56.00" x2="482.30" y2="56.00" stroke="#6a6a6a" stroke-width="0.85" />
<line x1="475.90" y1="73.00" x2="482.30" y2="73.00" stroke="#6a6a6a" stroke-width="0.85" />
<line x1="473.10" y1="64.00" x2="485.10" y2="64.00" stroke="#6a6a6a" stroke-width="0.85" />
<g fill="#2a4dff"><rect x="477.85" y="63.85" width="1.3" height="1.3"/><rect x="473.85" y="63.85" width="1.3" height="1.3"/><rect x="479.85" y="62.85" width="1.3" height="1.3"/><rect x="476.85" y="62.85" width="1.3" height="1.3"/><rect x="483.85" y="62.85" width="1.3" height="1.3"/><rect x="481.85" y="63.85" width="1.3" height="1.3"/><rect x="474.85" y="63.85" width="1.3" height="1.3"/><rect x="472.85" y="62.85" width="1.3" height="1.3"/><rect x="472.85" y="63.85" width="1.3" height="1.3"/><rect x="483.85" y="64.85" width="1.3" height="1.3"/><rect x="481.85" y="61.85" width="1.3" height="1.3"/><rect x="476.85" y="61.85" width="1.3" height="1.3"/><rect x="479.85" y="61.85" width="1.3" height="1.3"/><rect x="475.85" y="64.85" width="1.3" height="1.3"/><rect x="479.85" y="64.85" width="1.3" height="1.3"/><rect x="472.85" y="64.85" width="1.3" height="1.3"/><rect x="474.85" y="64.85" width="1.3" height="1.3"/><rect x="474.85" y="61.85" width="1.3" height="1.3"/><rect x="483.85" y="60.85" width="1.3" height="1.3"/><rect x="476.85" y="65.85" width="1.3" height="1.3"/><rect x="472.85" y="60.85" width="1.3" height="1.3"/><rect x="480.85" y="66.85" width="1.3" height="1.3"/><rect x="483.85" y="66.85" width="1.3" height="1.3"/><rect x="480.85" y="59.85" width="1.3" height="1.3"/><rect x="478.85" y="66.85" width="1.3" height="1.3"/><rect x="477.85" y="59.85" width="1.3" height="1.3"/><rect x="474.85" y="59.85" width="1.3" height="1.3"/><rect x="472.85" y="66.85" width="1.3" height="1.3"/><rect x="478.85" y="59.85" width="1.3" height="1.3"/><rect x="474.85" y="66.85" width="1.3" height="1.3"/><rect x="476.85" y="59.85" width="1.3" height="1.3"/><rect x="475.85" y="58.85" width="1.3" height="1.3"/><rect x="478.85" y="58.85" width="1.3" height="1.3"/><rect x="475.85" y="58.85" width="1.3" height="1.3"/><rect x="480.85" y="58.85" width="1.3" height="1.3"/><rect x="478.85" y="58.85" width="1.3" height="1.3"/><rect x="476.85" y="67.85" width="1.3" height="1.3"/><rect x="481.85" y="58.85" width="1.3" height="1.3"/><rect x="479.85" y="67.85" width="1.3" height="1.3"/><rect x="477.85" y="58.85" width="1.3" height="1.3"/><rect x="476.85" y="58.85" width="1.3" height="1.3"/><rect x="478.85" y="67.85" width="1.3" height="1.3"/><rect x="478.85" y="58.85" width="1.3" height="1.3"/><rect x="475.85" y="67.85" width="1.3" height="1.3"/><rect x="478.85" y="58.85" width="1.3" height="1.3"/><rect x="478.85" y="67.85" width="1.3" height="1.3"/><rect x="478.85" y="67.85" width="1.3" height="1.3"/><rect x="479.85" y="57.85" width="1.3" height="1.3"/><rect x="478.85" y="68.85" width="1.3" height="1.3"/><rect x="478.85" y="57.85" width="1.3" height="1.3"/><rect x="479.85" y="68.85" width="1.3" height="1.3"/><rect x="477.85" y="57.85" width="1.3" height="1.3"/><rect x="474.85" y="57.85" width="1.3" height="1.3"/><rect x="477.85" y="57.85" width="1.3" height="1.3"/><rect x="481.85" y="68.85" width="1.3" height="1.3"/><rect x="475.85" y="68.85" width="1.3" height="1.3"/><rect x="475.85" y="68.85" width="1.3" height="1.3"/><rect x="480.85" y="68.85" width="1.3" height="1.3"/><rect x="475.85" y="57.85" width="1.3" height="1.3"/><rect x="475.85" y="69.85" width="1.3" height="1.3"/><rect x="479.85" y="69.85" width="1.3" height="1.3"/><rect x="475.85" y="69.85" width="1.3" height="1.3"/><rect x="480.85" y="69.85" width="1.3" height="1.3"/><rect x="481.85" y="56.85" width="1.3" height="1.3"/><rect x="477.85" y="70.85" width="1.3" height="1.3"/><rect x="479.85" y="70.85" width="1.3" height="1.3"/><rect x="480.85" y="70.85" width="1.3" height="1.3"/><rect x="479.85" y="55.85" width="1.3" height="1.3"/><rect x="476.85" y="55.85" width="1.3" height="1.3"/><rect x="474.85" y="71.85" width="1.3" height="1.3"/><rect x="478.85" y="71.85" width="1.3" height="1.3"/><rect x="475.85" y="71.85" width="1.3" height="1.3"/><rect x="478.85" y="75.85" width="1.3" height="1.3"/><rect x="478.85" y="82.85" width="1.3" height="1.3"/></g>
<rect x="491.30" y="62.90" width="12.40" height="6.80" rx="0.6" fill="#fff" fill-opacity="0.5" stroke="#808080" stroke-width="0.8"/>
<line x1="497.50" y1="57.00" x2="497.50" y2="62.90" stroke="#808080" stroke-width="0.8" />
<line x1="497.50" y1="69.70" x2="497.50" y2="80.00" stroke="#808080" stroke-width="0.8" />
<line x1="494.30" y1="57.00" x2="500.70" y2="57.00" stroke="#6a6a6a" stroke-width="0.85" />
<line x1="494.30" y1="80.00" x2="500.70" y2="80.00" stroke="#6a6a6a" stroke-width="0.85" />
<line x1="491.30" y1="66.50" x2="503.70" y2="66.50" stroke="#6a6a6a" stroke-width="0.85" />
<g fill="#ff3b1c"><rect x="498.85" y="65.85" width="1.3" height="1.3"/><rect x="491.85" y="65.85" width="1.3" height="1.3"/><rect x="496.85" y="65.85" width="1.3" height="1.3"/><rect x="493.85" y="65.85" width="1.3" height="1.3"/><rect x="502.85" y="65.85" width="1.3" height="1.3"/><rect x="497.85" y="65.85" width="1.3" height="1.3"/><rect x="501.85" y="65.85" width="1.3" height="1.3"/><rect x="496.85" y="65.85" width="1.3" height="1.3"/><rect x="491.85" y="65.85" width="1.3" height="1.3"/><rect x="494.85" y="65.85" width="1.3" height="1.3"/><rect x="497.85" y="64.85" width="1.3" height="1.3"/><rect x="498.85" y="64.85" width="1.3" height="1.3"/><rect x="499.85" y="66.85" width="1.3" height="1.3"/><rect x="494.85" y="64.85" width="1.3" height="1.3"/><rect x="490.85" y="66.85" width="1.3" height="1.3"/><rect x="500.85" y="64.85" width="1.3" height="1.3"/><rect x="498.85" y="64.85" width="1.3" height="1.3"/><rect x="492.85" y="64.85" width="1.3" height="1.3"/><rect x="491.85" y="64.85" width="1.3" height="1.3"/><rect x="497.85" y="64.85" width="1.3" height="1.3"/><rect x="498.85" y="64.85" width="1.3" height="1.3"/><rect x="492.85" y="63.85" width="1.3" height="1.3"/><rect x="494.85" y="63.85" width="1.3" height="1.3"/><rect x="493.85" y="67.85" width="1.3" height="1.3"/><rect x="492.85" y="67.85" width="1.3" height="1.3"/><rect x="493.85" y="63.85" width="1.3" height="1.3"/><rect x="502.85" y="63.85" width="1.3" height="1.3"/><rect x="490.85" y="63.85" width="1.3" height="1.3"/><rect x="492.85" y="63.85" width="1.3" height="1.3"/><rect x="496.85" y="67.85" width="1.3" height="1.3"/><rect x="494.85" y="63.85" width="1.3" height="1.3"/><rect x="501.85" y="67.85" width="1.3" height="1.3"/><rect x="498.85" y="67.85" width="1.3" height="1.3"/><rect x="491.85" y="67.85" width="1.3" height="1.3"/><rect x="493.85" y="67.85" width="1.3" height="1.3"/><rect x="497.85" y="67.85" width="1.3" height="1.3"/><rect x="500.85" y="68.85" width="1.3" height="1.3"/><rect x="497.85" y="68.85" width="1.3" height="1.3"/><rect x="497.85" y="68.85" width="1.3" height="1.3"/><rect x="497.85" y="62.85" width="1.3" height="1.3"/><rect x="500.85" y="61.85" width="1.3" height="1.3"/><rect x="495.85" y="69.85" width="1.3" height="1.3"/><rect x="493.85" y="61.85" width="1.3" height="1.3"/><rect x="499.85" y="69.85" width="1.3" height="1.3"/><rect x="495.85" y="61.85" width="1.3" height="1.3"/><rect x="493.85" y="69.85" width="1.3" height="1.3"/><rect x="497.85" y="61.85" width="1.3" height="1.3"/><rect x="496.85" y="61.85" width="1.3" height="1.3"/><rect x="499.85" y="70.85" width="1.3" height="1.3"/><rect x="494.85" y="60.85" width="1.3" height="1.3"/><rect x="498.85" y="60.85" width="1.3" height="1.3"/><rect x="493.85" y="60.85" width="1.3" height="1.3"/><rect x="493.85" y="60.85" width="1.3" height="1.3"/><rect x="496.85" y="70.85" width="1.3" height="1.3"/><rect x="494.85" y="70.85" width="1.3" height="1.3"/><rect x="499.85" y="60.85" width="1.3" height="1.3"/><rect x="498.85" y="59.85" width="1.3" height="1.3"/><rect x="497.85" y="71.85" width="1.3" height="1.3"/><rect x="493.85" y="71.85" width="1.3" height="1.3"/><rect x="495.85" y="71.85" width="1.3" height="1.3"/><rect x="496.85" y="59.85" width="1.3" height="1.3"/><rect x="494.85" y="58.85" width="1.3" height="1.3"/><rect x="499.85" y="72.85" width="1.3" height="1.3"/><rect x="499.85" y="57.85" width="1.3" height="1.3"/><rect x="494.85" y="56.85" width="1.3" height="1.3"/><rect x="497.85" y="56.85" width="1.3" height="1.3"/><rect x="495.85" y="75.85" width="1.3" height="1.3"/><rect x="499.85" y="75.85" width="1.3" height="1.3"/><rect x="493.85" y="76.85" width="1.3" height="1.3"/><rect x="498.85" y="76.85" width="1.3" height="1.3"/><rect x="496.85" y="76.85" width="1.3" height="1.3"/><rect x="495.85" y="77.85" width="1.3" height="1.3"/><rect x="496.85" y="84.85" width="1.3" height="1.3"/><rect x="496.85" y="91.85" width="1.3" height="1.3"/><rect x="496.85" y="116.85" width="1.3" height="1.3"/></g>
<text transform="translate(482.50,147.70) rotate(-45) scale(1,1.07)" font-size="7.3" text-anchor="end" fill="#231f20">Liraglutide</text>
<text transform="translate(501.50,147.70) rotate(-45) scale(1,1.07)" font-size="7.3" text-anchor="end" fill="#231f20">Placebo</text>
<text transform="translate(518.40,8.90) scale(1,1.0)" font-size="12.3" text-anchor="start" font-weight="bold" fill="#000" style="stroke:#000;stroke-width:0.5px">d</text>
<text transform="translate(542.20,10.50) scale(1,1.07)" font-size="7.2" text-anchor="start" font-weight="normal" fill="#231f20" >Temporal lobe volume change</text>
<text transform="translate(523.80,76.60) rotate(-90) scale(1,1.07)" font-size="6.2" text-anchor="middle" fill="#231f20">Change from baseline to 52 weeks (mm<tspan font-size="3.72" dy="-2.2">3</tspan><tspan dy="2.2">)</tspan></text>
<text transform="translate(541.80,34.40) scale(1,1.07)" font-size="5.6" text-anchor="start" font-weight="normal" fill="#231f20" style="stroke-width:0.1px">(i) Group differences</text>
<text transform="translate(541.80,41.00) scale(1,1.07)" font-size="5.6" text-anchor="start" font-weight="normal" fill="#231f20" style="stroke-width:0.1px">(mean ± s.e.m.)</text>
<line x1="558.50" y1="46.00" x2="558.50" y2="105.00" stroke="#7c7c7c" stroke-width="1"/>
<line x1="556.50" y1="46.50" x2="558.50" y2="46.50" stroke="#7c7c7c" stroke-width="1"/>
<text transform="translate(554.00,48.79) scale(1,1.07)" font-size="5.9" text-anchor="end" font-weight="normal" fill="#231f20" >0</text>
<line x1="556.50" y1="61.50" x2="558.50" y2="61.50" stroke="#7c7c7c" stroke-width="1"/>
<text transform="translate(554.00,63.19) scale(1,1.07)" font-size="5.9" text-anchor="end" font-weight="normal" fill="#231f20" >−<tspan dx="-0.12em">500</tspan></text>
<line x1="556.50" y1="75.50" x2="558.50" y2="75.50" stroke="#7c7c7c" stroke-width="1"/>
<text transform="translate(554.00,77.59) scale(1,1.07)" font-size="5.9" text-anchor="end" font-weight="normal" fill="#231f20" >−<tspan dx="-0.12em">1,000</tspan></text>
<line x1="556.50" y1="89.50" x2="558.50" y2="89.50" stroke="#7c7c7c" stroke-width="1"/>
<text transform="translate(554.00,91.99) scale(1,1.07)" font-size="5.9" text-anchor="end" font-weight="normal" fill="#231f20" >−<tspan dx="-0.12em">1,500</tspan></text>
<line x1="556.50" y1="104.50" x2="558.50" y2="104.50" stroke="#7c7c7c" stroke-width="1"/>
<text transform="translate(554.00,106.39) scale(1,1.07)" font-size="5.9" text-anchor="end" font-weight="normal" fill="#231f20" >−<tspan dx="-0.12em">2,000</tspan></text>
<line x1="556.50" y1="46.50" x2="597.00" y2="46.50" stroke="#7c7c7c" stroke-width="1"/>
<line x1="556.50" y1="104.50" x2="597.00" y2="104.50" stroke="#7c7c7c" stroke-width="1"/>
<line x1="567.50" y1="104.50" x2="567.50" y2="106.50" stroke="#7c7c7c" stroke-width="1"/>
<line x1="587.50" y1="104.50" x2="587.50" y2="106.50" stroke="#7c7c7c" stroke-width="1"/>
<path d="M563.40,46.70 L563.40,87.02 L572.60,87.02 L572.60,46.70" fill="none" stroke="#3358ff" stroke-width="0.9"/>
<line x1="565.70" y1="86.02" x2="570.30" y2="86.02" stroke="#3358ff" stroke-width="0.7" opacity="0.85"/>
<line x1="565.70" y1="88.02" x2="570.30" y2="88.02" stroke="#3358ff" stroke-width="0.7" opacity="0.85"/>
<line x1="568.00" y1="86.02" x2="568.00" y2="88.02" stroke="#3358ff" stroke-width="0.7" opacity="0.85"/>
<circle cx="568.00" cy="87.02" r="0.85" fill="#000"/>
<path d="M582.50,46.70 L582.50,102.72 L591.50,102.72 L591.50,46.70" fill="none" stroke="#f7452b" stroke-width="0.9"/>
<line x1="584.70" y1="101.72" x2="589.30" y2="101.72" stroke="#f7452b" stroke-width="0.7" opacity="0.85"/>
<line x1="584.70" y1="103.72" x2="589.30" y2="103.72" stroke="#f7452b" stroke-width="0.7" opacity="0.85"/>
<line x1="587.00" y1="101.72" x2="587.00" y2="103.72" stroke="#f7452b" stroke-width="0.7" opacity="0.85"/>
<circle cx="587.00" cy="102.72" r="0.85" fill="#000"/>
<text transform="translate(571.80,108.90) rotate(-45) scale(1,1.07)" font-size="5.9" text-anchor="end" fill="#231f20">Liraglutide</text>
<text transform="translate(593.90,116.20) rotate(-45) scale(1,1.07)" font-size="5.9" text-anchor="end" fill="#231f20">Placebo</text>
<rect x="537.50" y="139.50" width="61.00" height="26.00" fill="none" stroke="#3b8b46" stroke-width="1"/>
<text transform="translate(539.20,147.70) scale(1,1.07)" font-size="6.1" text-anchor="start" font-weight="normal" fill="#231f20" >Difference, 696;</text>
<text transform="translate(539.20,154.30) scale(1,1.07)" font-size="6.1" text-anchor="start" font-weight="normal" fill="#231f20" >95% CI: 184 to 1,208;</text>
<text transform="translate(539.20,160.60) scale(1,1.07)" font-size="6.1" text-anchor="start" font-weight="normal" fill="#231f20" ><tspan font-style="italic">P</tspan> &lt; 0.001</text>
<text transform="translate(638.40,28.80) scale(1,1.07)" font-size="5.6" text-anchor="start" font-weight="normal" fill="#231f20" style="stroke-width:0.1px">(ii) Individual data</text>
<text transform="translate(638.40,35.40) scale(1,1.07)" font-size="5.6" text-anchor="start" font-weight="normal" fill="#231f20" style="stroke-width:0.1px">spread (median,</text>
<text transform="translate(638.40,41.90) scale(1,1.07)" font-size="5.6" text-anchor="start" font-weight="normal" fill="#231f20" style="stroke-width:0.1px">IQR and 95% CI)</text>
<line x1="635.50" y1="37.00" x2="635.50" y2="140.00" stroke="#7c7c7c" stroke-width="1"/>
<line x1="633.30" y1="37.50" x2="635.50" y2="37.50" stroke="#7c7c7c" stroke-width="1"/>
<text transform="translate(631.70,40.05) scale(1,1.12)" font-size="7.2" text-anchor="end" font-weight="normal" fill="#231f20" >5,000</text>
<line x1="633.30" y1="63.50" x2="635.50" y2="63.50" stroke="#7c7c7c" stroke-width="1"/>
<text transform="translate(631.70,65.50) scale(1,1.12)" font-size="7.2" text-anchor="end" font-weight="normal" fill="#231f20" >0</text>
<line x1="633.30" y1="88.50" x2="635.50" y2="88.50" stroke="#7c7c7c" stroke-width="1"/>
<text transform="translate(631.70,90.95) scale(1,1.12)" font-size="7.2" text-anchor="end" font-weight="normal" fill="#231f20" >−<tspan dx="-0.12em">5,000</tspan></text>
<line x1="633.30" y1="114.50" x2="635.50" y2="114.50" stroke="#7c7c7c" stroke-width="1"/>
<text transform="translate(631.70,116.40) scale(1,1.12)" font-size="7.2" text-anchor="end" font-weight="normal" fill="#231f20" >−<tspan dx="-0.12em">10,000</tspan></text>
<line x1="633.30" y1="139.50" x2="635.50" y2="139.50" stroke="#7c7c7c" stroke-width="1"/>
<text transform="translate(631.70,141.85) scale(1,1.12)" font-size="7.2" text-anchor="end" font-weight="normal" fill="#231f20" >−<tspan dx="-0.12em">15,000</tspan></text>
<line x1="635.00" y1="139.50" x2="686.00" y2="139.50" stroke="#7c7c7c" stroke-width="1"/>
<line x1="654.50" y1="139.50" x2="654.50" y2="141.50" stroke="#7c7c7c" stroke-width="1"/>
<line x1="673.50" y1="139.50" x2="673.50" y2="141.50" stroke="#7c7c7c" stroke-width="1"/>
<rect x="648.20" y="64.90" width="12.40" height="9.10" rx="0.6" fill="#fff" fill-opacity="0.5" stroke="#808080" stroke-width="0.8"/>
<line x1="654.40" y1="55.70" x2="654.40" y2="64.90" stroke="#808080" stroke-width="0.8" />
<line x1="654.40" y1="74.00" x2="654.40" y2="82.00" stroke="#808080" stroke-width="0.8" />
<line x1="651.20" y1="55.70" x2="657.60" y2="55.70" stroke="#6a6a6a" stroke-width="0.85" />
<line x1="651.20" y1="82.00" x2="657.60" y2="82.00" stroke="#6a6a6a" stroke-width="0.85" />
<line x1="648.20" y1="68.10" x2="660.60" y2="68.10" stroke="#6a6a6a" stroke-width="0.85" />
<g fill="#2a4dff"><rect x="655.85" y="67.85" width="1.3" height="1.3"/><rect x="648.85" y="66.85" width="1.3" height="1.3"/><rect x="650.85" y="67.85" width="1.3" height="1.3"/><rect x="658.85" y="67.85" width="1.3" height="1.3"/><rect x="652.85" y="67.85" width="1.3" height="1.3"/><rect x="651.85" y="66.85" width="1.3" height="1.3"/><rect x="655.85" y="66.85" width="1.3" height="1.3"/><rect x="658.85" y="66.85" width="1.3" height="1.3"/><rect x="653.85" y="66.85" width="1.3" height="1.3"/><rect x="651.85" y="66.85" width="1.3" height="1.3"/><rect x="656.85" y="66.85" width="1.3" height="1.3"/><rect x="648.85" y="66.85" width="1.3" height="1.3"/><rect x="658.85" y="68.85" width="1.3" height="1.3"/><rect x="655.85" y="65.85" width="1.3" height="1.3"/><rect x="647.85" y="68.85" width="1.3" height="1.3"/><rect x="651.85" y="65.85" width="1.3" height="1.3"/><rect x="656.85" y="68.85" width="1.3" height="1.3"/><rect x="654.85" y="68.85" width="1.3" height="1.3"/><rect x="650.85" y="65.85" width="1.3" height="1.3"/><rect x="649.85" y="65.85" width="1.3" height="1.3"/><rect x="658.85" y="65.85" width="1.3" height="1.3"/><rect x="648.85" y="65.85" width="1.3" height="1.3"/><rect x="656.85" y="65.85" width="1.3" height="1.3"/><rect x="653.85" y="65.85" width="1.3" height="1.3"/><rect x="650.85" y="69.85" width="1.3" height="1.3"/><rect x="651.85" y="64.85" width="1.3" height="1.3"/><rect x="652.85" y="69.85" width="1.3" height="1.3"/><rect x="653.85" y="64.85" width="1.3" height="1.3"/><rect x="650.85" y="64.85" width="1.3" height="1.3"/><rect x="652.85" y="64.85" width="1.3" height="1.3"/><rect x="652.85" y="64.85" width="1.3" height="1.3"/><rect x="654.85" y="64.85" width="1.3" height="1.3"/><rect x="657.85" y="70.85" width="1.3" height="1.3"/><rect x="658.85" y="63.85" width="1.3" height="1.3"/><rect x="657.85" y="63.85" width="1.3" height="1.3"/><rect x="659.85" y="63.85" width="1.3" height="1.3"/><rect x="654.85" y="63.85" width="1.3" height="1.3"/><rect x="655.85" y="70.85" width="1.3" height="1.3"/><rect x="653.85" y="63.85" width="1.3" height="1.3"/><rect x="656.85" y="63.85" width="1.3" height="1.3"/><rect x="656.85" y="63.85" width="1.3" height="1.3"/><rect x="656.85" y="62.85" width="1.3" height="1.3"/><rect x="653.85" y="62.85" width="1.3" height="1.3"/><rect x="650.85" y="71.85" width="1.3" height="1.3"/><rect x="651.85" y="62.85" width="1.3" height="1.3"/><rect x="654.85" y="62.85" width="1.3" height="1.3"/><rect x="658.85" y="72.85" width="1.3" height="1.3"/><rect x="650.85" y="61.85" width="1.3" height="1.3"/><rect x="650.85" y="61.85" width="1.3" height="1.3"/><rect x="654.85" y="73.85" width="1.3" height="1.3"/><rect x="656.85" y="60.85" width="1.3" height="1.3"/><rect x="656.85" y="73.85" width="1.3" height="1.3"/><rect x="653.85" y="60.85" width="1.3" height="1.3"/><rect x="652.85" y="73.85" width="1.3" height="1.3"/><rect x="650.85" y="73.85" width="1.3" height="1.3"/><rect x="651.85" y="60.85" width="1.3" height="1.3"/><rect x="652.85" y="59.85" width="1.3" height="1.3"/><rect x="650.85" y="59.85" width="1.3" height="1.3"/><rect x="655.85" y="74.85" width="1.3" height="1.3"/><rect x="654.85" y="74.85" width="1.3" height="1.3"/><rect x="655.85" y="75.85" width="1.3" height="1.3"/><rect x="654.85" y="75.85" width="1.3" height="1.3"/><rect x="650.85" y="75.85" width="1.3" height="1.3"/><rect x="652.85" y="75.85" width="1.3" height="1.3"/><rect x="653.85" y="75.85" width="1.3" height="1.3"/><rect x="656.85" y="75.85" width="1.3" height="1.3"/><rect x="650.85" y="75.85" width="1.3" height="1.3"/><rect x="650.85" y="57.85" width="1.3" height="1.3"/><rect x="651.85" y="77.85" width="1.3" height="1.3"/><rect x="655.85" y="77.85" width="1.3" height="1.3"/><rect x="652.85" y="54.85" width="1.3" height="1.3"/><rect x="650.85" y="80.85" width="1.3" height="1.3"/><rect x="653.85" y="49.85" width="1.3" height="1.3"/><rect x="653.85" y="111.85" width="1.3" height="1.3"/></g>
<rect x="666.90" y="65.50" width="11.80" height="13.80" rx="0.6" fill="#fff" fill-opacity="0.5" stroke="#808080" stroke-width="0.8"/>
<line x1="672.80" y1="60.30" x2="672.80" y2="65.50" stroke="#808080" stroke-width="0.8" />
<line x1="672.80" y1="79.30" x2="672.80" y2="86.00" stroke="#808080" stroke-width="0.8" />
<line x1="669.60" y1="60.30" x2="676.00" y2="60.30" stroke="#6a6a6a" stroke-width="0.85" />
<line x1="669.60" y1="86.00" x2="676.00" y2="86.00" stroke="#6a6a6a" stroke-width="0.85" />
<line x1="666.90" y1="72.00" x2="678.70" y2="72.00" stroke="#6a6a6a" stroke-width="0.85" />
<g fill="#ff3b1c"><rect x="668.85" y="70.85" width="1.3" height="1.3"/><rect x="673.85" y="70.85" width="1.3" height="1.3"/><rect x="671.85" y="71.85" width="1.3" height="1.3"/><rect x="677.85" y="71.85" width="1.3" height="1.3"/><rect x="666.85" y="71.85" width="1.3" height="1.3"/><rect x="675.85" y="70.85" width="1.3" height="1.3"/><rect x="667.85" y="70.85" width="1.3" height="1.3"/><rect x="675.85" y="71.85" width="1.3" height="1.3"/><rect x="675.85" y="72.85" width="1.3" height="1.3"/><rect x="677.85" y="69.85" width="1.3" height="1.3"/><rect x="668.85" y="72.85" width="1.3" height="1.3"/><rect x="672.85" y="69.85" width="1.3" height="1.3"/><rect x="666.85" y="73.85" width="1.3" height="1.3"/><rect x="671.85" y="73.85" width="1.3" height="1.3"/><rect x="670.85" y="67.85" width="1.3" height="1.3"/><rect x="668.85" y="74.85" width="1.3" height="1.3"/><rect x="677.85" y="74.85" width="1.3" height="1.3"/><rect x="674.85" y="67.85" width="1.3" height="1.3"/><rect x="671.85" y="67.85" width="1.3" height="1.3"/><rect x="676.85" y="66.85" width="1.3" height="1.3"/><rect x="667.85" y="66.85" width="1.3" height="1.3"/><rect x="670.85" y="75.85" width="1.3" height="1.3"/><rect x="669.85" y="66.85" width="1.3" height="1.3"/><rect x="672.85" y="75.85" width="1.3" height="1.3"/><rect x="671.85" y="66.85" width="1.3" height="1.3"/><rect x="666.85" y="75.85" width="1.3" height="1.3"/><rect x="669.85" y="66.85" width="1.3" height="1.3"/><rect x="668.85" y="76.85" width="1.3" height="1.3"/><rect x="673.85" y="65.85" width="1.3" height="1.3"/><rect x="675.85" y="65.85" width="1.3" height="1.3"/><rect x="677.85" y="76.85" width="1.3" height="1.3"/><rect x="677.85" y="65.85" width="1.3" height="1.3"/><rect x="669.85" y="77.85" width="1.3" height="1.3"/><rect x="670.85" y="64.85" width="1.3" height="1.3"/><rect x="670.85" y="64.85" width="1.3" height="1.3"/><rect x="672.85" y="77.85" width="1.3" height="1.3"/><rect x="672.85" y="64.85" width="1.3" height="1.3"/><rect x="674.85" y="64.85" width="1.3" height="1.3"/><rect x="669.85" y="63.85" width="1.3" height="1.3"/><rect x="669.85" y="63.85" width="1.3" height="1.3"/><rect x="672.85" y="63.85" width="1.3" height="1.3"/><rect x="673.85" y="63.85" width="1.3" height="1.3"/><rect x="674.85" y="78.85" width="1.3" height="1.3"/><rect x="669.85" y="63.85" width="1.3" height="1.3"/><rect x="673.85" y="62.85" width="1.3" height="1.3"/><rect x="670.85" y="79.85" width="1.3" height="1.3"/><rect x="669.85" y="79.85" width="1.3" height="1.3"/><rect x="671.85" y="62.85" width="1.3" height="1.3"/><rect x="672.85" y="79.85" width="1.3" height="1.3"/><rect x="675.85" y="62.85" width="1.3" height="1.3"/><rect x="674.85" y="79.85" width="1.3" height="1.3"/><rect x="674.85" y="62.85" width="1.3" height="1.3"/><rect x="671.85" y="80.85" width="1.3" height="1.3"/><rect x="669.85" y="80.85" width="1.3" height="1.3"/><rect x="674.85" y="80.85" width="1.3" height="1.3"/><rect x="672.85" y="80.85" width="1.3" height="1.3"/><rect x="674.85" y="80.85" width="1.3" height="1.3"/><rect x="670.85" y="80.85" width="1.3" height="1.3"/><rect x="668.85" y="61.85" width="1.3" height="1.3"/><rect x="670.85" y="61.85" width="1.3" height="1.3"/><rect x="669.85" y="80.85" width="1.3" height="1.3"/><rect x="673.85" y="81.85" width="1.3" height="1.3"/><rect x="671.85" y="81.85" width="1.3" height="1.3"/><rect x="673.85" y="60.85" width="1.3" height="1.3"/><rect x="668.85" y="81.85" width="1.3" height="1.3"/><rect x="673.85" y="81.85" width="1.3" height="1.3"/><rect x="669.85" y="60.85" width="1.3" height="1.3"/><rect x="671.85" y="60.85" width="1.3" height="1.3"/><rect x="671.85" y="81.85" width="1.3" height="1.3"/><rect x="674.85" y="59.85" width="1.3" height="1.3"/><rect x="674.85" y="82.85" width="1.3" height="1.3"/><rect x="670.85" y="84.85" width="1.3" height="1.3"/><rect x="671.85" y="87.85" width="1.3" height="1.3"/><rect x="671.85" y="89.85" width="1.3" height="1.3"/><rect x="671.85" y="91.85" width="1.3" height="1.3"/></g>
<text transform="translate(657.70,147.70) rotate(-45) scale(1,1.07)" font-size="7.3" text-anchor="end" fill="#231f20">Liraglutide</text>
<text transform="translate(676.80,147.70) rotate(-45) scale(1,1.07)" font-size="7.3" text-anchor="end" fill="#231f20">Placebo</text>
<text transform="translate(0.80,190.80) scale(1,1.0)" font-size="12.3" text-anchor="start" font-weight="bold" fill="#000" style="stroke:#000;stroke-width:0.5px">e</text>
<text transform="translate(27.60,200.20) scale(1,1.07)" font-size="7.1" text-anchor="start" font-weight="normal" fill="#231f20" >Parietal lobe volume change</text>
<text transform="translate(6.30,254.30) rotate(-90) scale(1,1.07)" font-size="6.2" text-anchor="middle" fill="#231f20">Change from baseline to 52 weeks (mm<tspan font-size="3.72" dy="-2.2">3</tspan><tspan dy="2.2">)</tspan></text>
<text transform="translate(34.80,211.50) scale(1,1.07)" font-size="5.6" text-anchor="start" font-weight="normal" fill="#231f20" style="stroke-width:0.1px">(i) Group differences</text>
<text transform="translate(34.80,217.70) scale(1,1.07)" font-size="5.6" text-anchor="start" font-weight="normal" fill="#231f20" style="stroke-width:0.1px">(mean ± s.e.m.)</text>
<line x1="39.50" y1="223.00" x2="39.50" y2="283.00" stroke="#7c7c7c" stroke-width="1"/>
<line x1="37.10" y1="223.50" x2="39.50" y2="223.50" stroke="#7c7c7c" stroke-width="1"/>
<text transform="translate(34.60,225.89) scale(1,1.07)" font-size="5.9" text-anchor="end" font-weight="normal" fill="#231f20" >0</text>
<line x1="37.10" y1="243.50" x2="39.50" y2="243.50" stroke="#7c7c7c" stroke-width="1"/>
<text transform="translate(34.60,245.39) scale(1,1.07)" font-size="5.9" text-anchor="end" font-weight="normal" fill="#231f20" >−<tspan dx="-0.12em">1,000</tspan></text>
<line x1="37.10" y1="262.50" x2="39.50" y2="262.50" stroke="#7c7c7c" stroke-width="1"/>
<text transform="translate(34.60,264.89) scale(1,1.07)" font-size="5.9" text-anchor="end" font-weight="normal" fill="#231f20" >−<tspan dx="-0.12em">2,000</tspan></text>
<line x1="37.10" y1="282.50" x2="39.50" y2="282.50" stroke="#7c7c7c" stroke-width="1"/>
<text transform="translate(34.60,284.39) scale(1,1.07)" font-size="5.9" text-anchor="end" font-weight="normal" fill="#231f20" >−<tspan dx="-0.12em">3,000</tspan></text>
<line x1="37.10" y1="223.50" x2="78.80" y2="223.50" stroke="#7c7c7c" stroke-width="1"/>
<line x1="37.10" y1="282.50" x2="78.80" y2="282.50" stroke="#7c7c7c" stroke-width="1"/>
<line x1="49.50" y1="282.50" x2="49.50" y2="284.50" stroke="#7c7c7c" stroke-width="1"/>
<line x1="68.50" y1="282.50" x2="68.50" y2="284.50" stroke="#7c7c7c" stroke-width="1"/>
<path d="M44.60,223.80 L44.60,242.52 L53.60,242.52 L53.60,223.80" fill="none" stroke="#3358ff" stroke-width="0.9"/>
<line x1="46.80" y1="240.62" x2="51.40" y2="240.62" stroke="#3358ff" stroke-width="0.7" opacity="0.85"/>
<line x1="46.80" y1="244.42" x2="51.40" y2="244.42" stroke="#3358ff" stroke-width="0.7" opacity="0.85"/>
<line x1="49.10" y1="240.62" x2="49.10" y2="244.42" stroke="#3358ff" stroke-width="0.7" opacity="0.85"/>
<circle cx="49.10" cy="242.52" r="0.85" fill="#000"/>
<path d="M64.60,223.80 L64.60,278.40 L73.50,278.40 L73.50,223.80" fill="none" stroke="#f7452b" stroke-width="0.9"/>
<line x1="66.75" y1="277.40" x2="71.35" y2="277.40" stroke="#f7452b" stroke-width="0.7" opacity="0.85"/>
<line x1="66.75" y1="279.40" x2="71.35" y2="279.40" stroke="#f7452b" stroke-width="0.7" opacity="0.85"/>
<line x1="69.05" y1="277.40" x2="69.05" y2="279.40" stroke="#f7452b" stroke-width="0.7" opacity="0.85"/>
<circle cx="69.05" cy="278.40" r="0.85" fill="#000"/>
<text transform="translate(52.40,289.80) rotate(-45) scale(1,1.07)" font-size="6.25" text-anchor="end" fill="#231f20">Liraglutide</text>
<text transform="translate(72.20,289.60) rotate(-45) scale(1,1.07)" font-size="6.25" text-anchor="end" fill="#231f20">Placebo</text>
<rect x="17.50" y="315.50" width="65.00" height="26.00" fill="none" stroke="#3b8b46" stroke-width="1"/>
<text transform="translate(19.90,323.40) scale(1,1.07)" font-size="6.1" text-anchor="start" font-weight="normal" fill="#231f20" >Difference, 1,979;</text>
<text transform="translate(19.90,330.00) scale(1,1.07)" font-size="6.1" text-anchor="start" font-weight="normal" fill="#231f20" >95% CI: 360 to 3,598;</text>
<text transform="translate(19.90,336.50) scale(1,1.07)" font-size="6.1" text-anchor="start" font-weight="normal" fill="#231f20" >P = 0.018</text>
<text transform="translate(121.50,211.40) scale(1,1.07)" font-size="5.6" text-anchor="start" font-weight="normal" fill="#231f20" style="stroke-width:0.1px">(ii) Individual</text>
<text transform="translate(121.50,217.60) scale(1,1.07)" font-size="5.6" text-anchor="start" font-weight="normal" fill="#231f20" style="stroke-width:0.1px">data spread</text>
<text transform="translate(121.50,223.90) scale(1,1.07)" font-size="5.6" text-anchor="start" font-weight="normal" fill="#231f20" style="stroke-width:0.1px">(median, IQR</text>
<text transform="translate(121.50,230.20) scale(1,1.07)" font-size="5.6" text-anchor="start" font-weight="normal" fill="#231f20" style="stroke-width:0.1px">and 95% CI)</text>
<line x1="117.50" y1="215.00" x2="117.50" y2="318.00" stroke="#7c7c7c" stroke-width="1"/>
<line x1="115.00" y1="215.50" x2="117.50" y2="215.50" stroke="#7c7c7c" stroke-width="1"/>
<text transform="translate(113.40,217.70) scale(1,1.12)" font-size="6.7" text-anchor="end" font-weight="normal" fill="#231f20" >20,000</text>
<line x1="115.00" y1="241.50" x2="117.50" y2="241.50" stroke="#7c7c7c" stroke-width="1"/>
<text transform="translate(113.40,243.20) scale(1,1.12)" font-size="6.7" text-anchor="end" font-weight="normal" fill="#231f20" >10,000</text>
<line x1="115.00" y1="266.50" x2="117.50" y2="266.50" stroke="#7c7c7c" stroke-width="1"/>
<text transform="translate(113.40,268.70) scale(1,1.12)" font-size="6.7" text-anchor="end" font-weight="normal" fill="#231f20" >0</text>
<line x1="115.00" y1="292.50" x2="117.50" y2="292.50" stroke="#7c7c7c" stroke-width="1"/>
<text transform="translate(113.40,294.20) scale(1,1.12)" font-size="6.7" text-anchor="end" font-weight="normal" fill="#231f20" >−<tspan dx="-0.12em">10,000</tspan></text>
<line x1="115.00" y1="317.50" x2="117.50" y2="317.50" stroke="#7c7c7c" stroke-width="1"/>
<text transform="translate(113.40,319.70) scale(1,1.12)" font-size="6.7" text-anchor="end" font-weight="normal" fill="#231f20" >−<tspan dx="-0.12em">20000</tspan></text>
<line x1="117.00" y1="317.50" x2="169.50" y2="317.50" stroke="#7c7c7c" stroke-width="1"/>
<line x1="136.50" y1="317.50" x2="136.50" y2="319.50" stroke="#7c7c7c" stroke-width="1"/>
<line x1="154.50" y1="317.50" x2="154.50" y2="319.50" stroke="#7c7c7c" stroke-width="1"/>
<rect x="130.20" y="261.30" width="12.00" height="14.70" rx="0.6" fill="#fff" fill-opacity="0.5" stroke="#808080" stroke-width="0.8"/>
<line x1="136.20" y1="245.20" x2="136.20" y2="261.30" stroke="#808080" stroke-width="0.8" />
<line x1="136.20" y1="276.00" x2="136.20" y2="293.70" stroke="#808080" stroke-width="0.8" />
<line x1="133.00" y1="245.20" x2="139.40" y2="245.20" stroke="#6a6a6a" stroke-width="0.85" />
<line x1="133.00" y1="293.70" x2="139.40" y2="293.70" stroke="#6a6a6a" stroke-width="0.85" />
<line x1="130.20" y1="270.20" x2="142.20" y2="270.20" stroke="#6a6a6a" stroke-width="0.85" />
<g fill="#2a4dff"><rect x="131.85" y="269.85" width="1.3" height="1.3"/><rect x="137.85" y="269.85" width="1.3" height="1.3"/><rect x="135.85" y="268.85" width="1.3" height="1.3"/><rect x="139.85" y="270.85" width="1.3" height="1.3"/><rect x="134.85" y="270.85" width="1.3" height="1.3"/><rect x="129.85" y="270.85" width="1.3" height="1.3"/><rect x="137.85" y="267.85" width="1.3" height="1.3"/><rect x="135.85" y="271.85" width="1.3" height="1.3"/><rect x="137.85" y="271.85" width="1.3" height="1.3"/><rect x="132.85" y="266.85" width="1.3" height="1.3"/><rect x="140.85" y="266.85" width="1.3" height="1.3"/><rect x="132.85" y="271.85" width="1.3" height="1.3"/><rect x="140.85" y="272.85" width="1.3" height="1.3"/><rect x="136.85" y="266.85" width="1.3" height="1.3"/><rect x="129.85" y="272.85" width="1.3" height="1.3"/><rect x="130.85" y="265.85" width="1.3" height="1.3"/><rect x="131.85" y="265.85" width="1.3" height="1.3"/><rect x="134.85" y="272.85" width="1.3" height="1.3"/><rect x="138.85" y="265.85" width="1.3" height="1.3"/><rect x="136.85" y="273.85" width="1.3" height="1.3"/><rect x="139.85" y="273.85" width="1.3" height="1.3"/><rect x="134.85" y="264.85" width="1.3" height="1.3"/><rect x="129.85" y="273.85" width="1.3" height="1.3"/><rect x="140.85" y="274.85" width="1.3" height="1.3"/><rect x="141.85" y="264.85" width="1.3" height="1.3"/><rect x="132.85" y="263.85" width="1.3" height="1.3"/><rect x="130.85" y="263.85" width="1.3" height="1.3"/><rect x="135.85" y="274.85" width="1.3" height="1.3"/><rect x="136.85" y="263.85" width="1.3" height="1.3"/><rect x="133.85" y="275.85" width="1.3" height="1.3"/><rect x="137.85" y="275.85" width="1.3" height="1.3"/><rect x="133.85" y="275.85" width="1.3" height="1.3"/><rect x="139.85" y="262.85" width="1.3" height="1.3"/><rect x="134.85" y="262.85" width="1.3" height="1.3"/><rect x="138.85" y="276.85" width="1.3" height="1.3"/><rect x="132.85" y="276.85" width="1.3" height="1.3"/><rect x="136.85" y="276.85" width="1.3" height="1.3"/><rect x="138.85" y="276.85" width="1.3" height="1.3"/><rect x="131.85" y="262.85" width="1.3" height="1.3"/><rect x="137.85" y="262.85" width="1.3" height="1.3"/><rect x="134.85" y="277.85" width="1.3" height="1.3"/><rect x="132.85" y="261.85" width="1.3" height="1.3"/><rect x="137.85" y="277.85" width="1.3" height="1.3"/><rect x="133.85" y="277.85" width="1.3" height="1.3"/><rect x="137.85" y="258.85" width="1.3" height="1.3"/><rect x="133.85" y="258.85" width="1.3" height="1.3"/><rect x="136.85" y="280.85" width="1.3" height="1.3"/><rect x="134.85" y="280.85" width="1.3" height="1.3"/><rect x="132.85" y="257.85" width="1.3" height="1.3"/><rect x="132.85" y="281.85" width="1.3" height="1.3"/><rect x="134.85" y="282.85" width="1.3" height="1.3"/><rect x="137.85" y="255.85" width="1.3" height="1.3"/><rect x="134.85" y="254.85" width="1.3" height="1.3"/><rect x="133.85" y="254.85" width="1.3" height="1.3"/><rect x="138.85" y="254.85" width="1.3" height="1.3"/><rect x="134.85" y="285.85" width="1.3" height="1.3"/><rect x="136.85" y="285.85" width="1.3" height="1.3"/><rect x="138.85" y="286.85" width="1.3" height="1.3"/><rect x="134.85" y="252.85" width="1.3" height="1.3"/><rect x="132.85" y="287.85" width="1.3" height="1.3"/><rect x="138.85" y="250.85" width="1.3" height="1.3"/><rect x="131.85" y="248.85" width="1.3" height="1.3"/><rect x="134.85" y="246.85" width="1.3" height="1.3"/><rect x="137.85" y="292.85" width="1.3" height="1.3"/><rect x="135.85" y="240.85" width="1.3" height="1.3"/><rect x="135.85" y="241.85" width="1.3" height="1.3"/><rect x="135.85" y="297.85" width="1.3" height="1.3"/><rect x="135.85" y="307.85" width="1.3" height="1.3"/></g>
<rect x="149.00" y="268.10" width="11.80" height="14.40" rx="0.6" fill="#fff" fill-opacity="0.5" stroke="#808080" stroke-width="0.8"/>
<line x1="154.90" y1="248.10" x2="154.90" y2="268.10" stroke="#808080" stroke-width="0.8" />
<line x1="154.90" y1="282.50" x2="154.90" y2="291.00" stroke="#808080" stroke-width="0.8" />
<line x1="151.70" y1="248.10" x2="158.10" y2="248.10" stroke="#6a6a6a" stroke-width="0.85" />
<line x1="151.70" y1="291.00" x2="158.10" y2="291.00" stroke="#6a6a6a" stroke-width="0.85" />
<line x1="149.00" y1="273.80" x2="160.80" y2="273.80" stroke="#6a6a6a" stroke-width="0.85" />
<g fill="#ff3b1c"><rect x="151.85" y="272.85" width="1.3" height="1.3"/><rect x="154.85" y="272.85" width="1.3" height="1.3"/><rect x="156.85" y="272.85" width="1.3" height="1.3"/><rect x="148.85" y="273.85" width="1.3" height="1.3"/><rect x="158.85" y="271.85" width="1.3" height="1.3"/><rect x="159.85" y="273.85" width="1.3" height="1.3"/><rect x="149.85" y="271.85" width="1.3" height="1.3"/><rect x="153.85" y="273.85" width="1.3" height="1.3"/><rect x="153.85" y="270.85" width="1.3" height="1.3"/><rect x="156.85" y="270.85" width="1.3" height="1.3"/><rect x="151.85" y="270.85" width="1.3" height="1.3"/><rect x="151.85" y="275.85" width="1.3" height="1.3"/><rect x="159.85" y="269.85" width="1.3" height="1.3"/><rect x="150.85" y="269.85" width="1.3" height="1.3"/><rect x="148.85" y="269.85" width="1.3" height="1.3"/><rect x="154.85" y="276.85" width="1.3" height="1.3"/><rect x="156.85" y="276.85" width="1.3" height="1.3"/><rect x="148.85" y="276.85" width="1.3" height="1.3"/><rect x="154.85" y="269.85" width="1.3" height="1.3"/><rect x="157.85" y="277.85" width="1.3" height="1.3"/><rect x="158.85" y="268.85" width="1.3" height="1.3"/><rect x="149.85" y="268.85" width="1.3" height="1.3"/><rect x="149.85" y="277.85" width="1.3" height="1.3"/><rect x="148.85" y="267.85" width="1.3" height="1.3"/><rect x="159.85" y="267.85" width="1.3" height="1.3"/><rect x="154.85" y="267.85" width="1.3" height="1.3"/><rect x="152.85" y="267.85" width="1.3" height="1.3"/><rect x="156.85" y="267.85" width="1.3" height="1.3"/><rect x="152.85" y="266.85" width="1.3" height="1.3"/><rect x="151.85" y="266.85" width="1.3" height="1.3"/><rect x="151.85" y="266.85" width="1.3" height="1.3"/><rect x="153.85" y="265.85" width="1.3" height="1.3"/><rect x="150.85" y="279.85" width="1.3" height="1.3"/><rect x="154.85" y="280.85" width="1.3" height="1.3"/><rect x="148.85" y="280.85" width="1.3" height="1.3"/><rect x="155.85" y="265.85" width="1.3" height="1.3"/><rect x="158.85" y="280.85" width="1.3" height="1.3"/><rect x="157.85" y="264.85" width="1.3" height="1.3"/><rect x="152.85" y="264.85" width="1.3" height="1.3"/><rect x="156.85" y="281.85" width="1.3" height="1.3"/><rect x="150.85" y="282.85" width="1.3" height="1.3"/><rect x="155.85" y="282.85" width="1.3" height="1.3"/><rect x="153.85" y="282.85" width="1.3" height="1.3"/><rect x="155.85" y="262.85" width="1.3" height="1.3"/><rect x="156.85" y="282.85" width="1.3" height="1.3"/><rect x="152.85" y="283.85" width="1.3" height="1.3"/><rect x="150.85" y="261.85" width="1.3" height="1.3"/><rect x="156.85" y="284.85" width="1.3" height="1.3"/><rect x="153.85" y="260.85" width="1.3" height="1.3"/><rect x="154.85" y="284.85" width="1.3" height="1.3"/><rect x="152.85" y="285.85" width="1.3" height="1.3"/><rect x="157.85" y="259.85" width="1.3" height="1.3"/><rect x="151.85" y="259.85" width="1.3" height="1.3"/><rect x="154.85" y="259.85" width="1.3" height="1.3"/><rect x="155.85" y="286.85" width="1.3" height="1.3"/><rect x="153.85" y="258.85" width="1.3" height="1.3"/><rect x="151.85" y="287.85" width="1.3" height="1.3"/><rect x="153.85" y="288.85" width="1.3" height="1.3"/><rect x="150.85" y="289.85" width="1.3" height="1.3"/><rect x="153.85" y="253.85" width="1.3" height="1.3"/><rect x="155.85" y="253.85" width="1.3" height="1.3"/><rect x="150.85" y="252.85" width="1.3" height="1.3"/><rect x="154.85" y="251.85" width="1.3" height="1.3"/><rect x="154.85" y="247.85" width="1.3" height="1.3"/><rect x="153.85" y="236.85" width="1.3" height="1.3"/><rect x="154.85" y="239.85" width="1.3" height="1.3"/><rect x="153.85" y="298.85" width="1.3" height="1.3"/></g>
<text transform="translate(139.80,325.90) rotate(-45) scale(1,1.07)" font-size="7.3" text-anchor="end" fill="#231f20">Liraglutide</text>
<text transform="translate(158.20,325.90) rotate(-45) scale(1,1.07)" font-size="7.3" text-anchor="end" fill="#231f20">Placebo</text>
<text transform="translate(182.40,190.50) scale(1,1.0)" font-size="12.3" text-anchor="start" font-weight="bold" fill="#000" style="stroke:#000;stroke-width:0.5px">f</text>
<text transform="translate(214.00,200.20) scale(1,1.07)" font-size="7.13" text-anchor="start" font-weight="normal" fill="#231f20" >Frontoparietal lobe volume change</text>
<text transform="translate(187.60,255.20) rotate(-90) scale(1,1.07)" font-size="6.2" text-anchor="middle" fill="#231f20">Change from baseline to 52 weeks (mm<tspan font-size="3.72" dy="-2.2">3</tspan><tspan dy="2.2">)</tspan></text>
<text transform="translate(214.00,211.10) scale(1,1.07)" font-size="5.6" text-anchor="start" font-weight="normal" fill="#231f20" style="stroke-width:0.1px">(i) Group differences</text>
<text transform="translate(214.00,217.70) scale(1,1.07)" font-size="5.6" text-anchor="start" font-weight="normal" fill="#231f20" style="stroke-width:0.1px">(mean ± s.e.m.)</text>
<line x1="221.50" y1="225.00" x2="221.50" y2="284.00" stroke="#7c7c7c" stroke-width="1"/>
<line x1="219.40" y1="225.50" x2="221.50" y2="225.50" stroke="#7c7c7c" stroke-width="1"/>
<text transform="translate(216.90,227.59) scale(1,1.07)" font-size="5.9" text-anchor="end" font-weight="normal" fill="#231f20" >0</text>
<line x1="219.40" y1="239.50" x2="221.50" y2="239.50" stroke="#7c7c7c" stroke-width="1"/>
<text transform="translate(216.90,242.04) scale(1,1.07)" font-size="5.9" text-anchor="end" font-weight="normal" fill="#231f20" >−<tspan dx="-0.12em">2,000</tspan></text>
<line x1="219.40" y1="254.50" x2="221.50" y2="254.50" stroke="#7c7c7c" stroke-width="1"/>
<text transform="translate(216.90,256.49) scale(1,1.07)" font-size="5.9" text-anchor="end" font-weight="normal" fill="#231f20" >−<tspan dx="-0.12em">4,000</tspan></text>
<line x1="219.40" y1="268.50" x2="221.50" y2="268.50" stroke="#7c7c7c" stroke-width="1"/>
<text transform="translate(216.90,270.94) scale(1,1.07)" font-size="5.9" text-anchor="end" font-weight="normal" fill="#231f20" >−<tspan dx="-0.12em">6,000</tspan></text>
<line x1="219.40" y1="283.50" x2="221.50" y2="283.50" stroke="#7c7c7c" stroke-width="1"/>
<text transform="translate(216.90,285.39) scale(1,1.07)" font-size="5.9" text-anchor="end" font-weight="normal" fill="#231f20" >−<tspan dx="-0.12em">8,000</tspan></text>
<line x1="219.40" y1="225.50" x2="260.50" y2="225.50" stroke="#7c7c7c" stroke-width="1"/>
<line x1="219.40" y1="283.50" x2="260.50" y2="283.50" stroke="#7c7c7c" stroke-width="1"/>
<line x1="231.50" y1="283.50" x2="231.50" y2="285.50" stroke="#7c7c7c" stroke-width="1"/>
<line x1="251.50" y1="283.50" x2="251.50" y2="285.50" stroke="#7c7c7c" stroke-width="1"/>
<path d="M226.50,225.50 L226.50,237.42 L235.80,237.42 L235.80,225.50" fill="none" stroke="#3358ff" stroke-width="0.9"/>
<line x1="228.85" y1="236.42" x2="233.45" y2="236.42" stroke="#3358ff" stroke-width="0.7" opacity="0.85"/>
<line x1="228.85" y1="238.42" x2="233.45" y2="238.42" stroke="#3358ff" stroke-width="0.7" opacity="0.85"/>
<line x1="231.15" y1="236.42" x2="231.15" y2="238.42" stroke="#3358ff" stroke-width="0.7" opacity="0.85"/>
<circle cx="231.15" cy="237.42" r="0.85" fill="#000"/>
<path d="M246.00,225.50 L246.00,268.85 L255.40,268.85 L255.40,225.50" fill="none" stroke="#f7452b" stroke-width="0.9"/>
<line x1="248.40" y1="267.85" x2="253.00" y2="267.85" stroke="#f7452b" stroke-width="0.7" opacity="0.85"/>
<line x1="248.40" y1="269.85" x2="253.00" y2="269.85" stroke="#f7452b" stroke-width="0.7" opacity="0.85"/>
<line x1="250.70" y1="267.85" x2="250.70" y2="269.85" stroke="#f7452b" stroke-width="0.7" opacity="0.85"/>
<circle cx="250.70" cy="268.85" r="0.85" fill="#000"/>
<text transform="translate(235.10,290.60) rotate(-45) scale(1,1.07)" font-size="6.25" text-anchor="end" fill="#231f20">Liraglutide</text>
<text transform="translate(254.80,290.60) rotate(-45) scale(1,1.07)" font-size="6.25" text-anchor="end" fill="#231f20">Placebo</text>
<rect x="204.50" y="315.50" width="62.00" height="26.00" fill="none" stroke="#3b8b46" stroke-width="1"/>
<text transform="translate(207.10,323.40) scale(1,1.07)" font-size="6.1" text-anchor="start" font-weight="normal" fill="#231f20" >Difference, 4,272;</text>
<text transform="translate(207.10,330.00) scale(1,1.07)" font-size="6.1" text-anchor="start" font-weight="normal" fill="#231f20" >95% CI: 722 to 7,821;</text>
<text transform="translate(207.10,336.50) scale(1,1.07)" font-size="6.1" text-anchor="start" font-weight="normal" fill="#231f20" ><tspan font-style="italic">P</tspan> = 0.020</text>
<text transform="translate(316.00,212.70) scale(1,1.07)" font-size="5.6" text-anchor="start" font-weight="normal" fill="#231f20" style="stroke-width:0.1px">(ii) Individual</text>
<text transform="translate(316.00,219.30) scale(1,1.07)" font-size="5.6" text-anchor="start" font-weight="normal" fill="#231f20" style="stroke-width:0.1px">data spread</text>
<text transform="translate(316.00,225.90) scale(1,1.07)" font-size="5.6" text-anchor="start" font-weight="normal" fill="#231f20" style="stroke-width:0.1px">(median, IQR</text>
<text transform="translate(316.00,232.50) scale(1,1.07)" font-size="5.6" text-anchor="start" font-weight="normal" fill="#231f20" style="stroke-width:0.1px">and 95% CI)</text>
<line x1="305.50" y1="218.00" x2="305.50" y2="318.00" stroke="#7c7c7c" stroke-width="1"/>
<line x1="303.30" y1="218.50" x2="305.50" y2="218.50" stroke="#7c7c7c" stroke-width="1"/>
<text transform="translate(301.70,220.70) scale(1,1.12)" font-size="6.7" text-anchor="end" font-weight="normal" fill="#231f20" >100,000</text>
<line x1="303.30" y1="251.50" x2="305.50" y2="251.50" stroke="#7c7c7c" stroke-width="1"/>
<text transform="translate(301.70,253.70) scale(1,1.12)" font-size="6.7" text-anchor="end" font-weight="normal" fill="#231f20" >50,000</text>
<line x1="303.30" y1="284.50" x2="305.50" y2="284.50" stroke="#7c7c7c" stroke-width="1"/>
<text transform="translate(301.70,286.70) scale(1,1.12)" font-size="6.7" text-anchor="end" font-weight="normal" fill="#231f20" >0</text>
<line x1="303.30" y1="317.50" x2="305.50" y2="317.50" stroke="#7c7c7c" stroke-width="1"/>
<text transform="translate(301.70,319.70) scale(1,1.12)" font-size="6.7" text-anchor="end" font-weight="normal" fill="#231f20" >−<tspan dx="-0.12em">50,000</tspan></text>
<line x1="303.00" y1="317.50" x2="360.60" y2="317.50" stroke="#7c7c7c" stroke-width="1"/>
<line x1="323.50" y1="317.50" x2="323.50" y2="319.50" stroke="#7c7c7c" stroke-width="1"/>
<line x1="342.50" y1="317.50" x2="342.50" y2="319.50" stroke="#7c7c7c" stroke-width="1"/>
<rect x="317.80" y="282.50" width="12.20" height="8.50" rx="0.6" fill="#fff" fill-opacity="0.5" stroke="#808080" stroke-width="0.8"/>
<line x1="323.90" y1="274.00" x2="323.90" y2="282.50" stroke="#808080" stroke-width="0.8" />
<line x1="323.90" y1="291.00" x2="323.90" y2="299.60" stroke="#808080" stroke-width="0.8" />
<line x1="320.70" y1="274.00" x2="327.10" y2="274.00" stroke="#6a6a6a" stroke-width="0.85" />
<line x1="320.70" y1="299.60" x2="327.10" y2="299.60" stroke="#6a6a6a" stroke-width="0.85" />
<line x1="317.80" y1="286.00" x2="330.00" y2="286.00" stroke="#6a6a6a" stroke-width="0.85" />
<g fill="#2a4dff"><rect x="321.85" y="285.85" width="1.3" height="1.3"/><rect x="318.85" y="284.85" width="1.3" height="1.3"/><rect x="328.85" y="284.85" width="1.3" height="1.3"/><rect x="323.85" y="284.85" width="1.3" height="1.3"/><rect x="316.85" y="283.85" width="1.3" height="1.3"/><rect x="324.85" y="286.85" width="1.3" height="1.3"/><rect x="317.85" y="286.85" width="1.3" height="1.3"/><rect x="326.85" y="283.85" width="1.3" height="1.3"/><rect x="320.85" y="283.85" width="1.3" height="1.3"/><rect x="321.85" y="283.85" width="1.3" height="1.3"/><rect x="322.85" y="286.85" width="1.3" height="1.3"/><rect x="318.85" y="283.85" width="1.3" height="1.3"/><rect x="318.85" y="283.85" width="1.3" height="1.3"/><rect x="327.85" y="286.85" width="1.3" height="1.3"/><rect x="319.85" y="287.85" width="1.3" height="1.3"/><rect x="328.85" y="282.85" width="1.3" height="1.3"/><rect x="320.85" y="282.85" width="1.3" height="1.3"/><rect x="325.85" y="287.85" width="1.3" height="1.3"/><rect x="321.85" y="287.85" width="1.3" height="1.3"/><rect x="318.85" y="287.85" width="1.3" height="1.3"/><rect x="319.85" y="287.85" width="1.3" height="1.3"/><rect x="323.85" y="282.85" width="1.3" height="1.3"/><rect x="323.85" y="282.85" width="1.3" height="1.3"/><rect x="317.85" y="282.85" width="1.3" height="1.3"/><rect x="323.85" y="281.85" width="1.3" height="1.3"/><rect x="323.85" y="288.85" width="1.3" height="1.3"/><rect x="325.85" y="281.85" width="1.3" height="1.3"/><rect x="328.85" y="288.85" width="1.3" height="1.3"/><rect x="316.85" y="288.85" width="1.3" height="1.3"/><rect x="324.85" y="288.85" width="1.3" height="1.3"/><rect x="324.85" y="288.85" width="1.3" height="1.3"/><rect x="319.85" y="281.85" width="1.3" height="1.3"/><rect x="321.85" y="280.85" width="1.3" height="1.3"/><rect x="327.85" y="289.85" width="1.3" height="1.3"/><rect x="319.85" y="280.85" width="1.3" height="1.3"/><rect x="318.85" y="289.85" width="1.3" height="1.3"/><rect x="322.85" y="280.85" width="1.3" height="1.3"/><rect x="321.85" y="289.85" width="1.3" height="1.3"/><rect x="325.85" y="289.85" width="1.3" height="1.3"/><rect x="323.85" y="289.85" width="1.3" height="1.3"/><rect x="324.85" y="289.85" width="1.3" height="1.3"/><rect x="325.85" y="279.85" width="1.3" height="1.3"/><rect x="326.85" y="290.85" width="1.3" height="1.3"/><rect x="321.85" y="290.85" width="1.3" height="1.3"/><rect x="323.85" y="279.85" width="1.3" height="1.3"/><rect x="322.85" y="279.85" width="1.3" height="1.3"/><rect x="321.85" y="279.85" width="1.3" height="1.3"/><rect x="319.85" y="291.85" width="1.3" height="1.3"/><rect x="320.85" y="291.85" width="1.3" height="1.3"/><rect x="319.85" y="278.85" width="1.3" height="1.3"/><rect x="323.85" y="291.85" width="1.3" height="1.3"/><rect x="321.85" y="278.85" width="1.3" height="1.3"/><rect x="326.85" y="278.85" width="1.3" height="1.3"/><rect x="323.85" y="291.85" width="1.3" height="1.3"/><rect x="324.85" y="278.85" width="1.3" height="1.3"/><rect x="325.85" y="291.85" width="1.3" height="1.3"/><rect x="321.85" y="292.85" width="1.3" height="1.3"/><rect x="323.85" y="292.85" width="1.3" height="1.3"/><rect x="321.85" y="292.85" width="1.3" height="1.3"/><rect x="322.85" y="277.85" width="1.3" height="1.3"/><rect x="324.85" y="292.85" width="1.3" height="1.3"/><rect x="324.85" y="292.85" width="1.3" height="1.3"/><rect x="320.85" y="293.85" width="1.3" height="1.3"/><rect x="326.85" y="276.85" width="1.3" height="1.3"/><rect x="325.85" y="293.85" width="1.3" height="1.3"/><rect x="323.85" y="275.85" width="1.3" height="1.3"/><rect x="319.85" y="275.85" width="1.3" height="1.3"/><rect x="321.85" y="274.85" width="1.3" height="1.3"/><rect x="321.85" y="295.85" width="1.3" height="1.3"/><rect x="324.85" y="296.85" width="1.3" height="1.3"/><rect x="325.85" y="273.85" width="1.3" height="1.3"/><rect x="321.85" y="298.85" width="1.3" height="1.3"/><rect x="322.85" y="243.85" width="1.3" height="1.3"/><rect x="322.85" y="271.85" width="1.3" height="1.3"/><rect x="323.85" y="308.85" width="1.3" height="1.3"/></g>
<rect x="336.10" y="283.10" width="12.40" height="11.90" rx="0.6" fill="#fff" fill-opacity="0.5" stroke="#808080" stroke-width="0.8"/>
<line x1="342.30" y1="276.30" x2="342.30" y2="283.10" stroke="#808080" stroke-width="0.8" />
<line x1="342.30" y1="295.00" x2="342.30" y2="301.50" stroke="#808080" stroke-width="0.8" />
<line x1="339.10" y1="276.30" x2="345.50" y2="276.30" stroke="#6a6a6a" stroke-width="0.85" />
<line x1="339.10" y1="301.50" x2="345.50" y2="301.50" stroke="#6a6a6a" stroke-width="0.85" />
<line x1="336.10" y1="287.50" x2="348.50" y2="287.50" stroke="#6a6a6a" stroke-width="0.85" />
<g fill="#ff3b1c"><rect x="340.85" y="286.85" width="1.3" height="1.3"/><rect x="344.85" y="286.85" width="1.3" height="1.3"/><rect x="338.85" y="286.85" width="1.3" height="1.3"/><rect x="342.85" y="286.85" width="1.3" height="1.3"/><rect x="336.85" y="287.85" width="1.3" height="1.3"/><rect x="346.85" y="285.85" width="1.3" height="1.3"/><rect x="339.85" y="285.85" width="1.3" height="1.3"/><rect x="336.85" y="287.85" width="1.3" height="1.3"/><rect x="339.85" y="285.85" width="1.3" height="1.3"/><rect x="346.85" y="287.85" width="1.3" height="1.3"/><rect x="345.85" y="285.85" width="1.3" height="1.3"/><rect x="335.85" y="285.85" width="1.3" height="1.3"/><rect x="343.85" y="285.85" width="1.3" height="1.3"/><rect x="337.85" y="284.85" width="1.3" height="1.3"/><rect x="342.85" y="288.85" width="1.3" height="1.3"/><rect x="346.85" y="284.85" width="1.3" height="1.3"/><rect x="341.85" y="283.85" width="1.3" height="1.3"/><rect x="339.85" y="283.85" width="1.3" height="1.3"/><rect x="345.85" y="289.85" width="1.3" height="1.3"/><rect x="336.85" y="283.85" width="1.3" height="1.3"/><rect x="338.85" y="289.85" width="1.3" height="1.3"/><rect x="342.85" y="282.85" width="1.3" height="1.3"/><rect x="344.85" y="282.85" width="1.3" height="1.3"/><rect x="344.85" y="290.85" width="1.3" height="1.3"/><rect x="340.85" y="290.85" width="1.3" height="1.3"/><rect x="346.85" y="282.85" width="1.3" height="1.3"/><rect x="338.85" y="282.85" width="1.3" height="1.3"/><rect x="336.85" y="291.85" width="1.3" height="1.3"/><rect x="340.85" y="281.85" width="1.3" height="1.3"/><rect x="338.85" y="281.85" width="1.3" height="1.3"/><rect x="338.85" y="292.85" width="1.3" height="1.3"/><rect x="342.85" y="292.85" width="1.3" height="1.3"/><rect x="343.85" y="280.85" width="1.3" height="1.3"/><rect x="341.85" y="280.85" width="1.3" height="1.3"/><rect x="346.85" y="292.85" width="1.3" height="1.3"/><rect x="344.85" y="292.85" width="1.3" height="1.3"/><rect x="335.85" y="292.85" width="1.3" height="1.3"/><rect x="339.85" y="280.85" width="1.3" height="1.3"/><rect x="339.85" y="279.85" width="1.3" height="1.3"/><rect x="340.85" y="279.85" width="1.3" height="1.3"/><rect x="341.85" y="293.85" width="1.3" height="1.3"/><rect x="338.85" y="279.85" width="1.3" height="1.3"/><rect x="343.85" y="279.85" width="1.3" height="1.3"/><rect x="337.85" y="293.85" width="1.3" height="1.3"/><rect x="338.85" y="279.85" width="1.3" height="1.3"/><rect x="339.85" y="279.85" width="1.3" height="1.3"/><rect x="342.85" y="278.85" width="1.3" height="1.3"/><rect x="339.85" y="294.85" width="1.3" height="1.3"/><rect x="342.85" y="294.85" width="1.3" height="1.3"/><rect x="339.85" y="278.85" width="1.3" height="1.3"/><rect x="344.85" y="278.85" width="1.3" height="1.3"/><rect x="344.85" y="295.85" width="1.3" height="1.3"/><rect x="339.85" y="295.85" width="1.3" height="1.3"/><rect x="342.85" y="277.85" width="1.3" height="1.3"/><rect x="343.85" y="277.85" width="1.3" height="1.3"/><rect x="341.85" y="295.85" width="1.3" height="1.3"/><rect x="340.85" y="295.85" width="1.3" height="1.3"/><rect x="342.85" y="277.85" width="1.3" height="1.3"/><rect x="338.85" y="295.85" width="1.3" height="1.3"/><rect x="340.85" y="296.85" width="1.3" height="1.3"/><rect x="340.85" y="296.85" width="1.3" height="1.3"/><rect x="342.85" y="296.85" width="1.3" height="1.3"/><rect x="343.85" y="296.85" width="1.3" height="1.3"/><rect x="338.85" y="296.85" width="1.3" height="1.3"/><rect x="339.85" y="276.85" width="1.3" height="1.3"/><rect x="343.85" y="297.85" width="1.3" height="1.3"/><rect x="344.85" y="297.85" width="1.3" height="1.3"/><rect x="341.85" y="298.85" width="1.3" height="1.3"/><rect x="339.85" y="299.85" width="1.3" height="1.3"/><rect x="342.85" y="299.85" width="1.3" height="1.3"/><rect x="343.85" y="299.85" width="1.3" height="1.3"/><rect x="341.85" y="300.85" width="1.3" height="1.3"/><rect x="341.85" y="270.85" width="1.3" height="1.3"/><rect x="341.85" y="272.85" width="1.3" height="1.3"/></g>
<text transform="translate(327.70,325.90) rotate(-45) scale(1,1.07)" font-size="7.3" text-anchor="end" fill="#231f20">Liraglutide</text>
<text transform="translate(346.50,325.90) rotate(-45) scale(1,1.07)" font-size="7.3" text-anchor="end" fill="#231f20">Placebo</text>
<text transform="translate(377.00,188.10) scale(1,1.0)" font-size="12.3" text-anchor="start" font-weight="bold" fill="#000" style="stroke:#000;stroke-width:0.5px">g</text>
<text transform="translate(413.00,200.20) scale(1,1.07)" font-size="7.1" text-anchor="start" font-weight="normal" fill="#231f20" >Whole gray matter volume change</text>
<text transform="translate(382.40,251.60) rotate(-90) scale(1,1.07)" font-size="6.2" text-anchor="middle" fill="#231f20">Change from baseline to 52 weeks (mm<tspan font-size="3.72" dy="-2.2">3</tspan><tspan dy="2.2">)</tspan></text>
<text transform="translate(417.20,211.10) scale(1,1.07)" font-size="5.6" text-anchor="start" font-weight="normal" fill="#231f20" style="stroke-width:0.1px">(i) Group differences</text>
<text transform="translate(417.20,217.40) scale(1,1.07)" font-size="5.6" text-anchor="start" font-weight="normal" fill="#231f20" style="stroke-width:0.1px">(mean ± s.e.m.)</text>
<line x1="420.50" y1="222.00" x2="420.50" y2="282.00" stroke="#7c7c7c" stroke-width="1"/>
<line x1="418.10" y1="222.50" x2="420.50" y2="222.50" stroke="#7c7c7c" stroke-width="1"/>
<text transform="translate(415.60,224.09) scale(1,1.07)" font-size="5.9" text-anchor="end" font-weight="normal" fill="#231f20" >0</text>
<line x1="418.10" y1="241.50" x2="420.50" y2="241.50" stroke="#7c7c7c" stroke-width="1"/>
<text transform="translate(415.60,244.06) scale(1,1.07)" font-size="5.9" text-anchor="end" font-weight="normal" fill="#231f20" >−<tspan dx="-0.12em">5,000</tspan></text>
<line x1="418.10" y1="261.50" x2="420.50" y2="261.50" stroke="#7c7c7c" stroke-width="1"/>
<text transform="translate(415.60,264.03) scale(1,1.07)" font-size="5.9" text-anchor="end" font-weight="normal" fill="#231f20" >−<tspan dx="-0.12em">10,000</tspan></text>
<line x1="418.10" y1="281.50" x2="420.50" y2="281.50" stroke="#7c7c7c" stroke-width="1"/>
<text transform="translate(415.60,284.00) scale(1,1.07)" font-size="5.9" text-anchor="end" font-weight="normal" fill="#231f20" >−<tspan dx="-0.12em">15,000</tspan></text>
<line x1="418.10" y1="222.50" x2="460.30" y2="222.50" stroke="#7c7c7c" stroke-width="1"/>
<line x1="418.10" y1="281.50" x2="460.30" y2="281.50" stroke="#7c7c7c" stroke-width="1"/>
<line x1="430.50" y1="281.50" x2="430.50" y2="283.50" stroke="#7c7c7c" stroke-width="1"/>
<line x1="450.50" y1="281.50" x2="450.50" y2="283.50" stroke="#7c7c7c" stroke-width="1"/>
<path d="M425.60,222.00 L425.60,261.34 L435.00,261.34 L435.00,222.00" fill="none" stroke="#3358ff" stroke-width="0.9"/>
<line x1="428.00" y1="260.54" x2="432.60" y2="260.54" stroke="#3358ff" stroke-width="0.7" opacity="0.85"/>
<line x1="428.00" y1="262.14" x2="432.60" y2="262.14" stroke="#3358ff" stroke-width="0.7" opacity="0.85"/>
<line x1="430.30" y1="260.54" x2="430.30" y2="262.14" stroke="#3358ff" stroke-width="0.7" opacity="0.85"/>
<circle cx="430.30" cy="261.34" r="0.85" fill="#000"/>
<path d="M445.50,222.00 L445.50,276.32 L455.10,276.32 L455.10,222.00" fill="none" stroke="#f7452b" stroke-width="0.9"/>
<line x1="448.00" y1="275.52" x2="452.60" y2="275.52" stroke="#f7452b" stroke-width="0.7" opacity="0.85"/>
<line x1="448.00" y1="277.12" x2="452.60" y2="277.12" stroke="#f7452b" stroke-width="0.7" opacity="0.85"/>
<line x1="450.30" y1="275.52" x2="450.30" y2="277.12" stroke="#f7452b" stroke-width="0.7" opacity="0.85"/>
<circle cx="450.30" cy="276.32" r="0.85" fill="#000"/>
<text transform="translate(433.80,289.60) rotate(-45) scale(1,1.07)" font-size="6.25" text-anchor="end" fill="#231f20">Liraglutide</text>
<text transform="translate(453.20,290.20) rotate(-45) scale(1,1.07)" font-size="6.25" text-anchor="end" fill="#231f20">Placebo</text>
<rect x="395.50" y="316.50" width="73.00" height="26.00" fill="none" stroke="#3b8b46" stroke-width="1"/>
<text transform="translate(398.90,324.70) scale(1,1.07)" font-size="6.1" text-anchor="start" font-weight="normal" fill="#231f20" >Difference, 7,274;</text>
<text transform="translate(398.90,331.10) scale(1,1.07)" font-size="6.1" text-anchor="start" font-weight="normal" fill="#231f20" >95% CI: 2,704 to 11,844;</text>
<text transform="translate(398.90,337.60) scale(1,1.07)" font-size="6.1" text-anchor="start" font-weight="normal" fill="#231f20" >P = 0.002</text>
<text transform="translate(509.90,209.50) scale(1,1.07)" font-size="5.6" text-anchor="start" font-weight="normal" fill="#231f20" style="stroke-width:0.1px">(ii) Individual</text>
<text transform="translate(509.90,216.10) scale(1,1.07)" font-size="5.6" text-anchor="start" font-weight="normal" fill="#231f20" style="stroke-width:0.1px">data spread</text>
<text transform="translate(509.90,222.80) scale(1,1.07)" font-size="5.6" text-anchor="start" font-weight="normal" fill="#231f20" style="stroke-width:0.1px">(median, IQR</text>
<text transform="translate(509.90,229.40) scale(1,1.07)" font-size="5.6" text-anchor="start" font-weight="normal" fill="#231f20" style="stroke-width:0.1px">and 95% CI)</text>
<line x1="503.50" y1="225.00" x2="503.50" y2="317.00" stroke="#7c7c7c" stroke-width="1"/>
<line x1="501.20" y1="225.50" x2="503.50" y2="225.50" stroke="#7c7c7c" stroke-width="1"/>
<text transform="translate(499.60,227.64) scale(1,1.12)" font-size="6.8" text-anchor="end" font-weight="normal" fill="#231f20" >40,000</text>
<line x1="501.20" y1="243.50" x2="503.50" y2="243.50" stroke="#7c7c7c" stroke-width="1"/>
<text transform="translate(499.60,245.84) scale(1,1.12)" font-size="6.8" text-anchor="end" font-weight="normal" fill="#231f20" >20,000</text>
<line x1="501.20" y1="261.50" x2="503.50" y2="261.50" stroke="#7c7c7c" stroke-width="1"/>
<text transform="translate(499.60,264.04) scale(1,1.12)" font-size="6.8" text-anchor="end" font-weight="normal" fill="#231f20" >0</text>
<line x1="501.20" y1="280.50" x2="503.50" y2="280.50" stroke="#7c7c7c" stroke-width="1"/>
<text transform="translate(499.60,282.24) scale(1,1.12)" font-size="6.8" text-anchor="end" font-weight="normal" fill="#231f20" >−<tspan dx="-0.12em">20,000</tspan></text>
<line x1="501.20" y1="298.50" x2="503.50" y2="298.50" stroke="#7c7c7c" stroke-width="1"/>
<text transform="translate(499.60,300.44) scale(1,1.12)" font-size="6.8" text-anchor="end" font-weight="normal" fill="#231f20" >−<tspan dx="-0.12em">40,000</tspan></text>
<line x1="501.20" y1="316.50" x2="503.50" y2="316.50" stroke="#7c7c7c" stroke-width="1"/>
<text transform="translate(499.60,318.64) scale(1,1.12)" font-size="6.8" text-anchor="end" font-weight="normal" fill="#231f20" >−<tspan dx="-0.12em">60,000</tspan></text>
<line x1="503.00" y1="316.50" x2="548.80" y2="316.50" stroke="#7c7c7c" stroke-width="1"/>
<line x1="520.50" y1="316.50" x2="520.50" y2="318.50" stroke="#7c7c7c" stroke-width="1"/>
<line x1="536.50" y1="316.50" x2="536.50" y2="318.50" stroke="#7c7c7c" stroke-width="1"/>
<rect x="515.30" y="256.30" width="10.20" height="21.20" rx="0.6" fill="#fff" fill-opacity="0.5" stroke="#808080" stroke-width="0.8"/>
<line x1="520.40" y1="246.40" x2="520.40" y2="256.30" stroke="#808080" stroke-width="0.8" />
<line x1="520.40" y1="277.50" x2="520.40" y2="292.30" stroke="#808080" stroke-width="0.8" />
<line x1="517.20" y1="246.40" x2="523.60" y2="246.40" stroke="#6a6a6a" stroke-width="0.85" />
<line x1="517.20" y1="292.30" x2="523.60" y2="292.30" stroke="#6a6a6a" stroke-width="0.85" />
<line x1="515.30" y1="267.40" x2="525.50" y2="267.40" stroke="#6a6a6a" stroke-width="0.85" />
<g fill="#2a4dff"><rect x="514.85" y="265.85" width="1.3" height="1.3"/><rect x="521.85" y="265.85" width="1.3" height="1.3"/><rect x="521.85" y="267.85" width="1.3" height="1.3"/><rect x="518.85" y="264.85" width="1.3" height="1.3"/><rect x="514.85" y="267.85" width="1.3" height="1.3"/><rect x="523.85" y="268.85" width="1.3" height="1.3"/><rect x="523.85" y="264.85" width="1.3" height="1.3"/><rect x="522.85" y="270.85" width="1.3" height="1.3"/><rect x="517.85" y="270.85" width="1.3" height="1.3"/><rect x="515.85" y="261.85" width="1.3" height="1.3"/><rect x="519.85" y="261.85" width="1.3" height="1.3"/><rect x="523.85" y="261.85" width="1.3" height="1.3"/><rect x="517.85" y="260.85" width="1.3" height="1.3"/><rect x="519.85" y="272.85" width="1.3" height="1.3"/><rect x="516.85" y="272.85" width="1.3" height="1.3"/><rect x="522.85" y="272.85" width="1.3" height="1.3"/><rect x="524.85" y="273.85" width="1.3" height="1.3"/><rect x="514.85" y="259.85" width="1.3" height="1.3"/><rect x="519.85" y="258.85" width="1.3" height="1.3"/><rect x="524.85" y="258.85" width="1.3" height="1.3"/><rect x="520.85" y="274.85" width="1.3" height="1.3"/><rect x="517.85" y="257.85" width="1.3" height="1.3"/><rect x="522.85" y="257.85" width="1.3" height="1.3"/><rect x="518.85" y="257.85" width="1.3" height="1.3"/><rect x="515.85" y="256.85" width="1.3" height="1.3"/><rect x="520.85" y="276.85" width="1.3" height="1.3"/><rect x="517.85" y="277.85" width="1.3" height="1.3"/><rect x="519.85" y="255.85" width="1.3" height="1.3"/><rect x="521.85" y="253.85" width="1.3" height="1.3"/><rect x="521.85" y="278.85" width="1.3" height="1.3"/><rect x="516.85" y="253.85" width="1.3" height="1.3"/><rect x="517.85" y="279.85" width="1.3" height="1.3"/><rect x="518.85" y="253.85" width="1.3" height="1.3"/><rect x="517.85" y="253.85" width="1.3" height="1.3"/><rect x="518.85" y="253.85" width="1.3" height="1.3"/><rect x="519.85" y="279.85" width="1.3" height="1.3"/><rect x="520.85" y="252.85" width="1.3" height="1.3"/><rect x="521.85" y="252.85" width="1.3" height="1.3"/><rect x="521.85" y="281.85" width="1.3" height="1.3"/><rect x="517.85" y="251.85" width="1.3" height="1.3"/><rect x="518.85" y="250.85" width="1.3" height="1.3"/><rect x="518.85" y="281.85" width="1.3" height="1.3"/><rect x="521.85" y="250.85" width="1.3" height="1.3"/><rect x="517.85" y="249.85" width="1.3" height="1.3"/><rect x="521.85" y="283.85" width="1.3" height="1.3"/><rect x="517.85" y="245.85" width="1.3" height="1.3"/><rect x="520.85" y="287.85" width="1.3" height="1.3"/><rect x="516.85" y="288.85" width="1.3" height="1.3"/><rect x="521.85" y="289.85" width="1.3" height="1.3"/><rect x="518.85" y="290.85" width="1.3" height="1.3"/><rect x="516.85" y="290.85" width="1.3" height="1.3"/><rect x="519.85" y="234.85" width="1.3" height="1.3"/><rect x="519.85" y="239.85" width="1.3" height="1.3"/><rect x="519.85" y="294.85" width="1.3" height="1.3"/></g>
<rect x="532.10" y="266.20" width="10.40" height="16.50" rx="0.6" fill="#fff" fill-opacity="0.5" stroke="#808080" stroke-width="0.8"/>
<line x1="537.30" y1="252.00" x2="537.30" y2="266.20" stroke="#808080" stroke-width="0.8" />
<line x1="537.30" y1="282.70" x2="537.30" y2="296.30" stroke="#808080" stroke-width="0.8" />
<line x1="534.10" y1="252.00" x2="540.50" y2="252.00" stroke="#6a6a6a" stroke-width="0.85" />
<line x1="534.10" y1="296.30" x2="540.50" y2="296.30" stroke="#6a6a6a" stroke-width="0.85" />
<line x1="532.10" y1="274.50" x2="542.50" y2="274.50" stroke="#6a6a6a" stroke-width="0.85" />
<g fill="#ff3b1c"><rect x="536.85" y="273.85" width="1.3" height="1.3"/><rect x="533.85" y="272.85" width="1.3" height="1.3"/><rect x="536.85" y="271.85" width="1.3" height="1.3"/><rect x="535.85" y="276.85" width="1.3" height="1.3"/><rect x="532.85" y="276.85" width="1.3" height="1.3"/><rect x="540.85" y="270.85" width="1.3" height="1.3"/><rect x="532.85" y="270.85" width="1.3" height="1.3"/><rect x="534.85" y="270.85" width="1.3" height="1.3"/><rect x="537.85" y="270.85" width="1.3" height="1.3"/><rect x="538.85" y="269.85" width="1.3" height="1.3"/><rect x="536.85" y="277.85" width="1.3" height="1.3"/><rect x="540.85" y="277.85" width="1.3" height="1.3"/><rect x="531.85" y="268.85" width="1.3" height="1.3"/><rect x="541.85" y="268.85" width="1.3" height="1.3"/><rect x="533.85" y="268.85" width="1.3" height="1.3"/><rect x="535.85" y="278.85" width="1.3" height="1.3"/><rect x="536.85" y="267.85" width="1.3" height="1.3"/><rect x="538.85" y="267.85" width="1.3" height="1.3"/><rect x="534.85" y="267.85" width="1.3" height="1.3"/><rect x="541.85" y="279.85" width="1.3" height="1.3"/><rect x="532.85" y="280.85" width="1.3" height="1.3"/><rect x="536.85" y="280.85" width="1.3" height="1.3"/><rect x="534.85" y="281.85" width="1.3" height="1.3"/><rect x="539.85" y="281.85" width="1.3" height="1.3"/><rect x="531.85" y="281.85" width="1.3" height="1.3"/><rect x="534.85" y="264.85" width="1.3" height="1.3"/><rect x="536.85" y="264.85" width="1.3" height="1.3"/><rect x="536.85" y="282.85" width="1.3" height="1.3"/><rect x="533.85" y="283.85" width="1.3" height="1.3"/><rect x="538.85" y="283.85" width="1.3" height="1.3"/><rect x="538.85" y="263.85" width="1.3" height="1.3"/><rect x="536.85" y="283.85" width="1.3" height="1.3"/><rect x="533.85" y="262.85" width="1.3" height="1.3"/><rect x="535.85" y="262.85" width="1.3" height="1.3"/><rect x="537.85" y="262.85" width="1.3" height="1.3"/><rect x="537.85" y="262.85" width="1.3" height="1.3"/><rect x="538.85" y="261.85" width="1.3" height="1.3"/><rect x="534.85" y="261.85" width="1.3" height="1.3"/><rect x="538.85" y="261.85" width="1.3" height="1.3"/><rect x="538.85" y="285.85" width="1.3" height="1.3"/><rect x="537.85" y="261.85" width="1.3" height="1.3"/><rect x="538.85" y="261.85" width="1.3" height="1.3"/><rect x="534.85" y="285.85" width="1.3" height="1.3"/><rect x="535.85" y="260.85" width="1.3" height="1.3"/><rect x="536.85" y="260.85" width="1.3" height="1.3"/><rect x="537.85" y="286.85" width="1.3" height="1.3"/><rect x="535.85" y="260.85" width="1.3" height="1.3"/><rect x="535.85" y="286.85" width="1.3" height="1.3"/><rect x="538.85" y="287.85" width="1.3" height="1.3"/><rect x="533.85" y="287.85" width="1.3" height="1.3"/><rect x="535.85" y="288.85" width="1.3" height="1.3"/><rect x="538.85" y="288.85" width="1.3" height="1.3"/><rect x="533.85" y="288.85" width="1.3" height="1.3"/><rect x="533.85" y="257.85" width="1.3" height="1.3"/><rect x="535.85" y="257.85" width="1.3" height="1.3"/><rect x="538.85" y="256.85" width="1.3" height="1.3"/><rect x="536.85" y="256.85" width="1.3" height="1.3"/><rect x="534.85" y="292.85" width="1.3" height="1.3"/><rect x="538.85" y="292.85" width="1.3" height="1.3"/><rect x="537.85" y="254.85" width="1.3" height="1.3"/><rect x="536.85" y="293.85" width="1.3" height="1.3"/><rect x="538.85" y="293.85" width="1.3" height="1.3"/><rect x="533.85" y="252.85" width="1.3" height="1.3"/><rect x="533.85" y="294.85" width="1.3" height="1.3"/><rect x="535.85" y="240.85" width="1.3" height="1.3"/><rect x="536.85" y="245.85" width="1.3" height="1.3"/><rect x="535.85" y="299.85" width="1.3" height="1.3"/><rect x="536.85" y="301.85" width="1.3" height="1.3"/></g>
<text transform="translate(523.40,322.50) rotate(-45) scale(1,1.07)" font-size="7.3" text-anchor="end" fill="#231f20">Liraglutide</text>
<text transform="translate(540.30,323.10) rotate(-45) scale(1,1.07)" font-size="7.3" text-anchor="end" fill="#231f20">Placebo</text>
</svg>
</body></html>
